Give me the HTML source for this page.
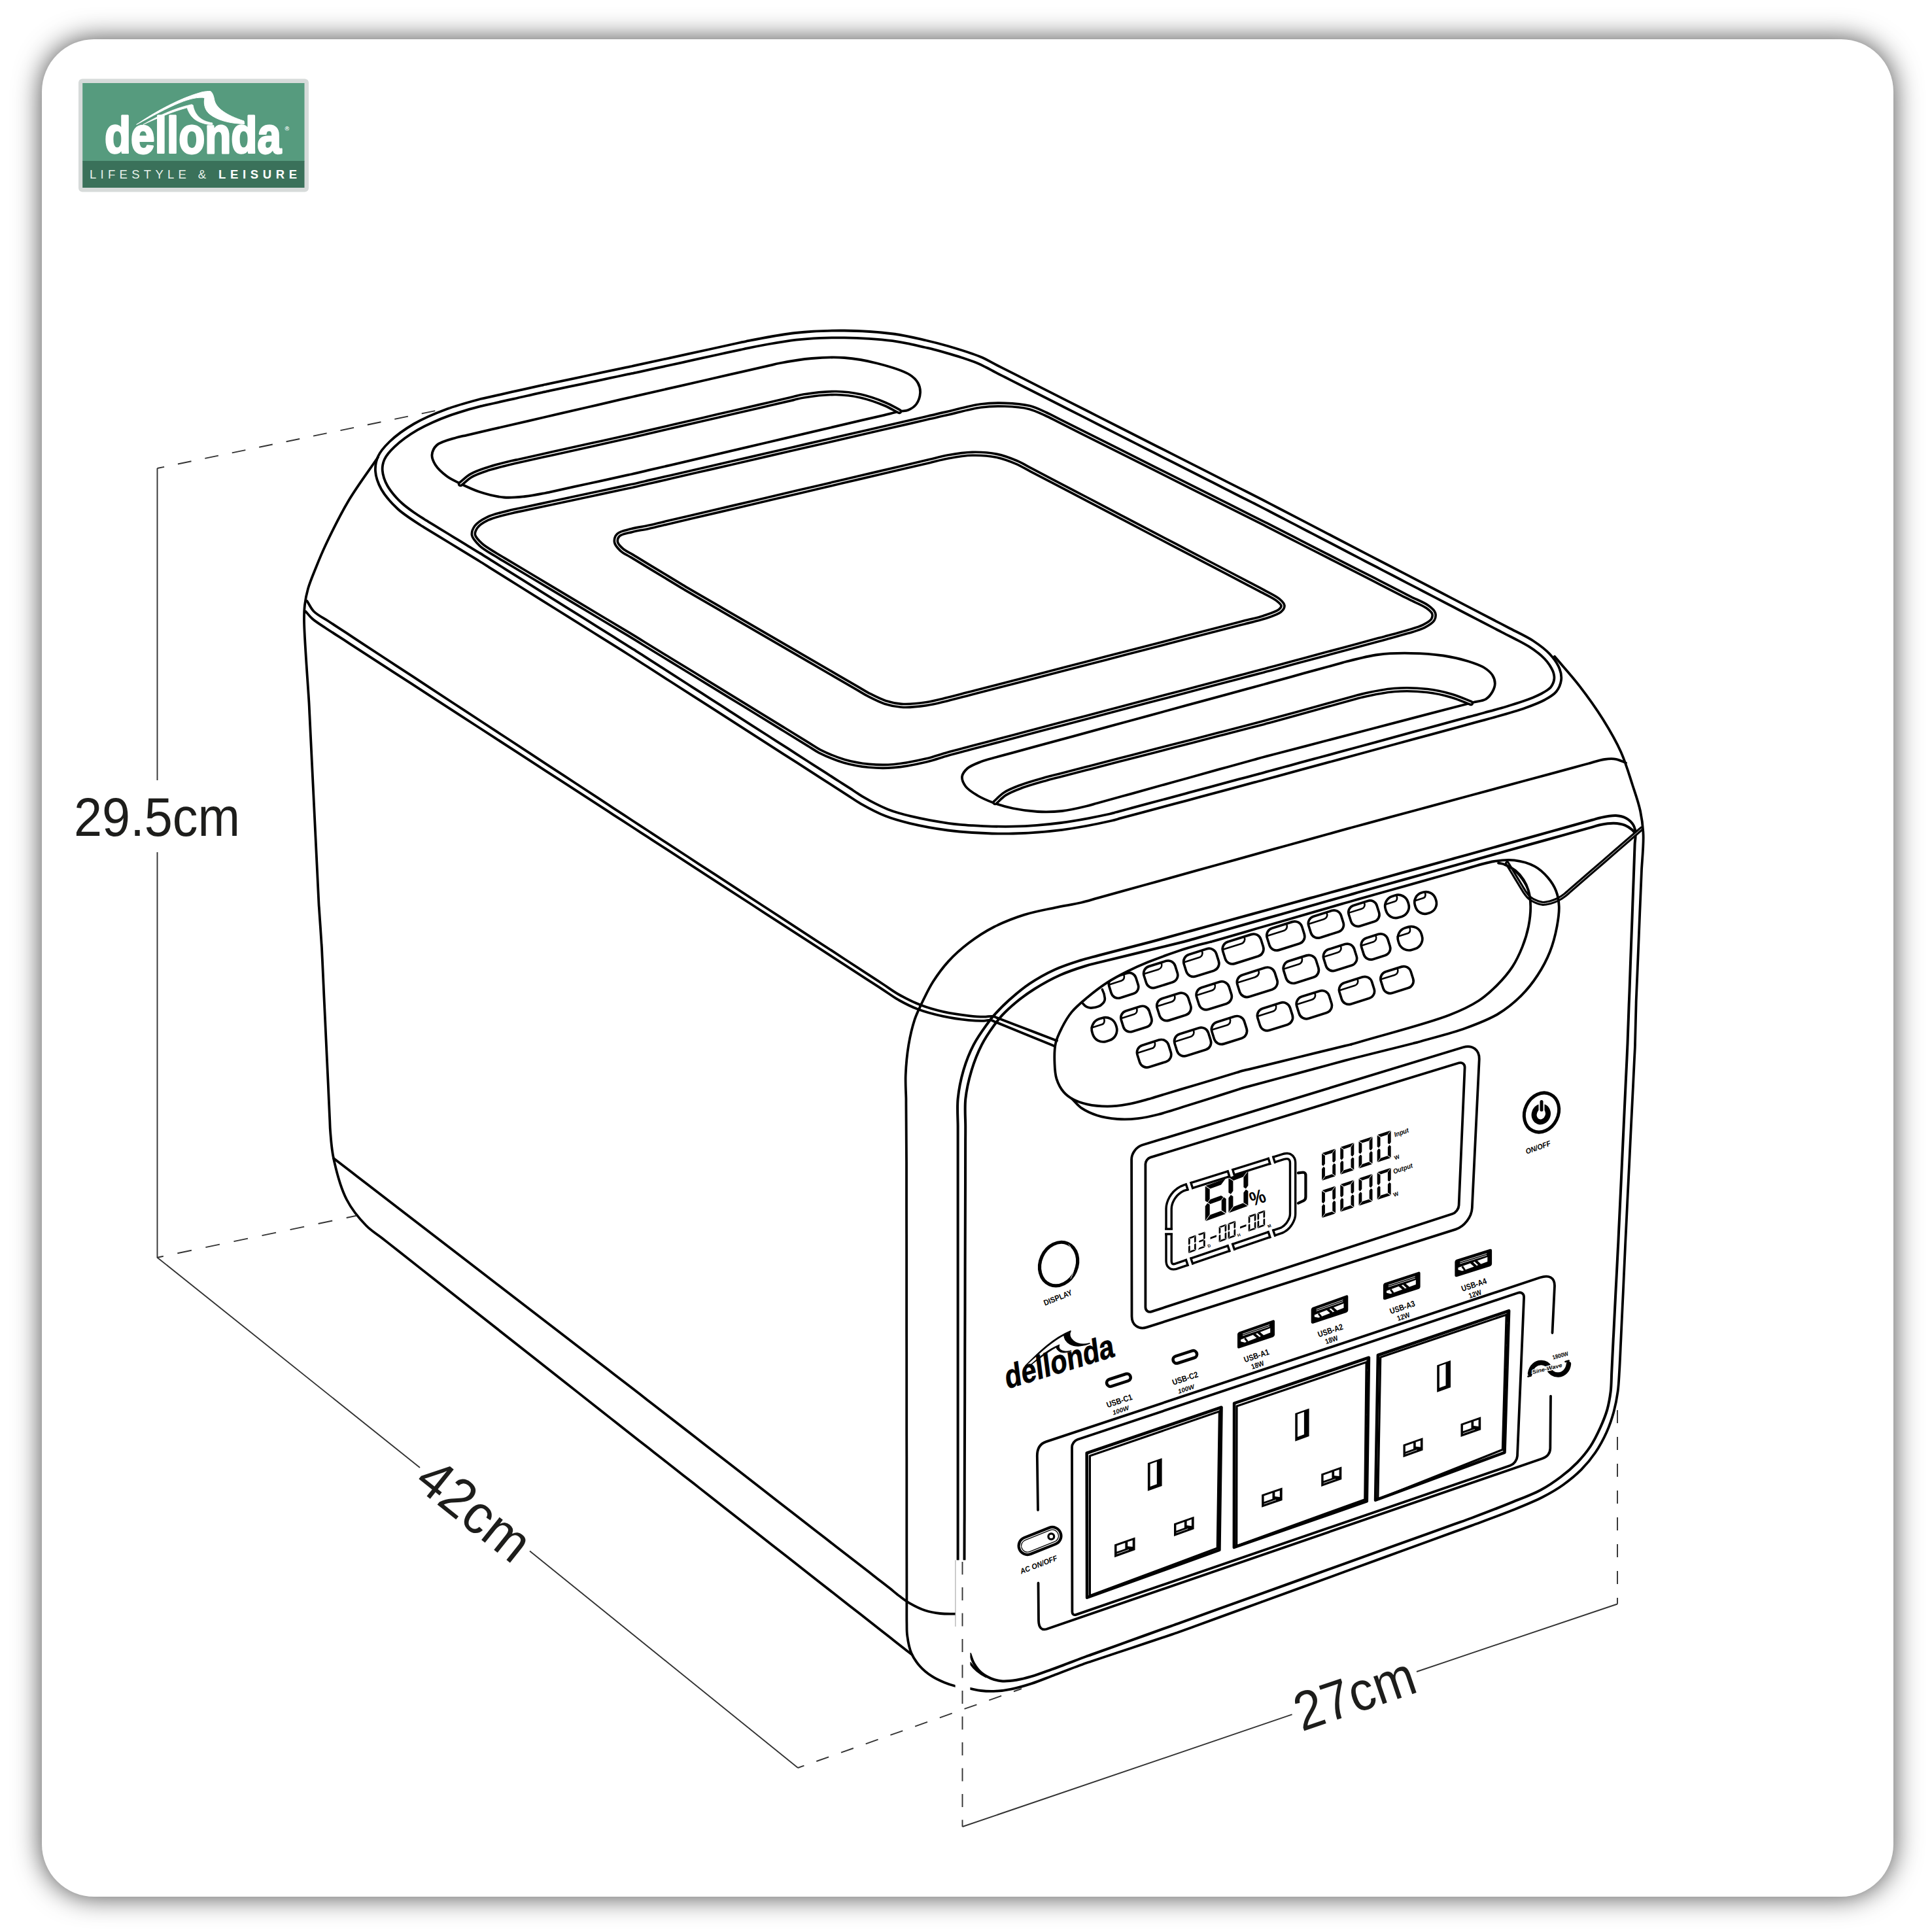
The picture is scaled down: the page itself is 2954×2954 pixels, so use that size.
<!DOCTYPE html>
<html><head><meta charset="utf-8"><title>Dellonda portable power station dimensions</title>
<style>
html,body{margin:0;padding:0;background:#fff;}
body{width:2954px;height:2954px;position:relative;overflow:hidden;font-family:"Liberation Sans",sans-serif;}
#card{position:absolute;left:64px;top:60px;width:2831px;height:2840px;border-radius:80px;background:#fff;box-shadow:0 0 42px rgba(0,0,0,.72);}
svg{position:absolute;left:0;top:0;}
.m{fill:none;stroke:#000;stroke-linecap:round;stroke-linejoin:round;}
.w{fill:none;stroke:#fff;stroke-linecap:round;stroke-linejoin:round;}
.d{fill:none;stroke:#333;stroke-width:1.9;}
.dd{fill:none;stroke:#333;stroke-width:1.9;stroke-dasharray:20 20;}
text{font-family:"Liberation Sans",sans-serif;}
.b{font-weight:bold;}
.bi{font-weight:bold;font-style:italic;}
</style></head><body>
<div id="card"></div>
<svg xmlns="http://www.w3.org/2000/svg" width="2954" height="2954" viewBox="0 0 2954 2954">
<path d="M574 720.5C573.5 712.7 574.8 705.1 578 698C581.5 690 587.9 682.9 595.5 675.5C605.2 666.1 619.1 656.1 633 648C648.1 639.2 666.1 631.8 683 625.5C699.5 619.4 724.4 612.8 733 610.5C736 609.7 736.1 609.8 739 609.1C746.9 607.4 768.3 602.5 783 599.2C797.7 596 819.1 591.1 827 589.4C829.9 588.7 830.9 588.5 833 588C835.5 587.5 837.1 587.1 841 586.3C851.5 584.1 880 578.1 899.5 574C919 569.9 947.5 563.9 958 561.7C961.9 560.9 963.2 560.6 966 560C969.3 559.3 971.4 558.8 976.5 557.7C990.3 554.7 1027.8 546.5 1053.5 540.9C1079.2 535.3 1116.7 527.1 1130.5 524C1135.6 522.9 1135.9 522.7 1141 521.8C1154.6 519.1 1190.9 511.7 1216 509C1240.9 506.3 1266 505.3 1291 505.5C1316 505.7 1343.6 507.5 1366 510.5C1384.4 512.9 1401.1 517.1 1416 520.5C1428.2 523.3 1436.9 525.5 1449 529C1464 533.4 1485.2 539.8 1499 545.5C1509.3 549.8 1516.1 554.2 1525 558.7C1534.2 563.3 1542.2 567.4 1553.1 572.9C1568.2 580.6 1589.2 591.2 1607.2 600.4C1625.3 609.5 1643.3 618.7 1661.4 627.8C1679.4 637 1697.5 646.1 1715.5 655.2C1733.5 664.4 1751.6 673.5 1769.6 682.7C1787.7 691.8 1805.7 701 1823.8 710.1C1841.8 719.3 1862.8 729.9 1877.9 737.6C1888.8 743.1 1896.8 747.2 1906 751.8C1914.9 756.3 1923.7 760.7 1932 765C1939.8 769 1946.4 772.5 1954.5 776.7C1964 781.7 1973.8 786.7 1985.6 792.9C2001 800.9 2021.3 811.4 2039.1 820.7C2057 830 2074.9 839.3 2092.7 848.6C2110.6 857.9 2128.4 867.1 2146.3 876.4C2164.1 885.7 2182 895 2199.9 904.3C2217.7 913.6 2238 924.1 2253.4 932.1C2265.2 938.3 2275 943.3 2284.5 948.3C2292.6 952.5 2298.6 955.6 2307 960C2317.9 965.8 2333.6 972.8 2344.5 980C2354 986.3 2362.7 992.6 2369.5 1000C2375.8 1006.8 2381.7 1015.2 2384.5 1022.5C2386.8 1028.4 2387.8 1034.3 2387 1040C2386.2 1045.9 2383.4 1052.6 2379.5 1057.5C2375.3 1062.7 2368.9 1066.2 2362 1070C2353.6 1074.7 2343.4 1078.4 2332 1082.5C2317.6 1087.7 2295.1 1093.8 2282 1097.5C2273.5 1099.9 2269 1101 2261 1103.2C2250.3 1106.1 2237.5 1109.6 2223.7 1113.3C2206.4 1118 2184.8 1123.9 2165.3 1129.2C2145.9 1134.4 2126.4 1139.7 2107 1145C2087.6 1150.3 2068.1 1155.6 2048.7 1160.8C2029.2 1166.1 2007.6 1172 1990.3 1176.7C1976.5 1180.4 1963.7 1183.9 1953 1186.8C1945 1189 1938.3 1190.8 1932 1192.5C1926.9 1193.9 1924 1194.6 1918 1196.2C1907.4 1199.1 1889.5 1203.9 1873.8 1208.1C1855.7 1213 1834.9 1218.5 1815.5 1223.8C1796.1 1229 1775.3 1234.5 1757.2 1239.4C1741.5 1243.6 1723.6 1248.4 1713 1251.2C1707 1252.9 1705.6 1253.5 1699 1255C1684 1258.4 1649.1 1265.5 1624 1268.8C1599.1 1272 1572.9 1273.9 1549 1274.5C1527.2 1275.1 1504.7 1274.1 1486.5 1273C1472.4 1272.2 1462.8 1271.4 1449 1269.5C1431.7 1267.1 1408.1 1262.9 1391 1258.8C1377 1255.4 1365.8 1252.4 1353.5 1247.5C1340.8 1242.5 1326.6 1234.8 1316 1228.8C1307.8 1224.1 1303 1220.4 1295 1215.3C1284.3 1208.4 1271.5 1200.2 1257.7 1191.3C1240.4 1180.2 1218.8 1166.3 1199.3 1153.8C1179.9 1141.3 1160.4 1128.9 1141 1116.4C1121.6 1103.9 1102.1 1091.4 1082.7 1078.9C1063.2 1066.4 1041.6 1052.6 1024.3 1041.5C1010.5 1032.6 997.7 1024.3 987 1017.5C979 1012.3 972.3 1008 966 1004C960.9 1000.8 958 999 952 995.2C941.4 988.6 923.5 977.4 907.8 967.5C889.7 956.2 868.9 943.2 849.5 931C830.1 918.8 809.3 905.8 791.2 894.5C775.5 884.6 757.6 873.4 747 866.8C741 863 736.6 860.2 733 858C730.8 856.6 730.2 856.3 727.6 854.7C720.5 850.3 701.2 838.6 688 830.5C674.8 822.4 655.5 810.7 648.4 806.3C645.8 804.7 645.5 804.7 643 803C636.4 798.6 618.2 787.4 608 778C598.3 769 588.7 758.3 583 748C578.1 739.1 574.6 729.3 574 720.5Z" class="m" stroke-width="3.8"/>
<path d="M584.8 719.7C584.5 716.6 584.7 713.8 585.2 710.9C585.7 708 586.5 705.3 587.8 702.5C589.3 699.4 591.3 696.3 593.7 693.3C596.3 689.9 599.3 686.8 603 683.3C607.5 679 613.3 674.2 619 670C625.1 665.5 631.5 661.3 638.4 657.3C645.7 653.2 653.7 649.3 661.7 645.7C669.8 642 678.1 638.7 686.7 635.6C695.6 632.5 705.4 629.5 713.9 626.9C721.6 624.6 732.1 621.9 735.7 620.9C737 620.6 737.3 620.6 738.2 620.4C739.2 620.1 739.9 620 741.4 619.7C745.1 618.9 754 616.9 760.8 615.3C768.5 613.6 777.2 611.6 785.4 609.8C793.5 607.9 802.2 606 809.9 604.3C816.8 602.7 825.6 600.7 829.4 599.9C830.9 599.5 831.6 599.4 832.7 599.1C833.6 598.9 834.4 598.8 835.3 598.6C836.3 598.3 837.5 598.1 838.7 597.8C840.1 597.5 841.1 597.3 843.2 596.9C848.3 595.8 860 593.4 869.1 591.4C879.3 589.3 890.8 586.9 901.7 584.6C912.6 582.3 924.1 579.9 934.4 577.7C943.5 575.8 955.2 573.3 960.2 572.2C962.3 571.8 963.2 571.6 964.6 571.3C965.9 571.1 967 570.8 968.3 570.6C969.7 570.2 971.2 569.9 972.9 569.6C974.7 569.2 976 568.9 978.8 568.3C985.5 566.8 1000.9 563.4 1012.9 560.8C1026.4 557.9 1041.5 554.6 1055.8 551.4C1070.1 548.3 1085.3 545 1098.7 542C1110.8 539.4 1126.4 536 1132.8 534.6C1135.4 534 1136.4 533.8 1138.2 533.4C1139.8 533 1140.7 532.8 1143.1 532.3C1149.2 531.1 1164.5 528 1176.1 526C1189 523.8 1203.9 521.3 1217.2 519.7C1229.8 518.3 1241.7 517.5 1254 516.9C1266.3 516.4 1278.5 516.2 1290.9 516.3C1303.4 516.4 1316.3 516.9 1328.8 517.8C1340.9 518.6 1353.7 519.7 1364.6 521.2C1373.8 522.5 1381.8 524 1390.1 525.7C1398.1 527.3 1406.5 529.4 1413.6 531C1419.5 532.4 1424.5 533.5 1429.9 534.9C1435.3 536.3 1440 537.6 1446 539.4C1453.4 541.5 1462.9 544.3 1471.2 547C1479.2 549.7 1488.3 552.7 1494.9 555.5C1499.8 557.5 1503.3 559.4 1507.4 561.5C1511.7 563.7 1515.8 566 1520.1 568.3C1524.5 570.6 1528.9 572.8 1533.5 575.1C1538.3 577.5 1542.6 579.7 1548.2 582.6C1555.7 586.3 1565.4 591.3 1574.2 595.7C1583.4 600.4 1593.1 605.3 1602.4 610C1611.5 614.6 1620.4 619.2 1629.4 623.7C1638.5 628.3 1647.5 632.9 1656.5 637.4C1665.5 642 1674.5 646.6 1683.6 651.2C1692.6 655.7 1701.6 660.3 1710.6 664.9C1719.6 669.5 1728.7 674 1737.7 678.6C1746.7 683.2 1755.7 687.7 1764.7 692.3C1773.8 696.9 1782.8 701.5 1791.8 706C1800.8 710.6 1809.8 715.1 1818.9 719.8C1828.2 724.5 1837.8 729.4 1847 734C1855.9 738.5 1865.6 743.4 1873 747.2C1878.6 750 1882.9 752.2 1887.7 754.7C1892.3 757 1896.7 759.2 1901.1 761.5C1905.6 763.7 1910 765.9 1914.3 768.1C1918.6 770.3 1923 772.5 1927.1 774.6C1930.9 776.6 1934.4 778.4 1938.1 780.3C1941.9 782.3 1945.5 784.2 1949.5 786.3C1954.1 788.7 1959.2 791.3 1964.2 793.9C1969.5 796.7 1974.5 799.3 1980.6 802.4C1988.2 806.4 1997.7 811.3 2006.5 815.9C2015.5 820.6 2025 825.5 2034.2 830.3C2043.2 835 2052 839.6 2060.9 844.2C2069.9 848.9 2078.8 853.5 2087.7 858.2C2096.7 862.8 2105.6 867.4 2114.5 872.1C2123.4 876.7 2132.4 881.4 2141.3 886C2150.2 890.7 2159.2 895.3 2168.1 899.9C2177 904.6 2185.9 909.2 2194.9 913.9C2204 918.6 2213.5 923.5 2222.6 928.3C2231.3 932.8 2240.8 937.8 2248.4 941.7C2254.5 944.9 2259.5 947.5 2264.8 950.2C2269.9 952.9 2275 955.5 2279.5 957.9C2283.5 959.9 2286.9 961.7 2290.7 963.7C2294.4 965.6 2297.7 967.4 2302 969.6C2307.5 972.4 2314.7 975.8 2320.8 979.1C2326.9 982.3 2333.3 985.7 2338.7 989.1C2343.3 992 2347.4 994.9 2351.3 998.1C2355 1001 2358.5 1004.1 2361.6 1007.3C2364.5 1010.4 2367.2 1013.8 2369.4 1017.1C2371.4 1020.2 2373.3 1023.6 2374.5 1026.5C2375.4 1028.8 2375.9 1030.8 2376.2 1032.9C2376.5 1034.8 2376.5 1036.7 2376.3 1038.6C2376 1040.6 2375.4 1042.9 2374.5 1044.9C2373.6 1046.9 2372.6 1049 2371.1 1050.7C2369.7 1052.4 2367.8 1053.8 2365.7 1055.3C2363.2 1057.1 2360.1 1058.8 2356.9 1060.5C2353 1062.5 2348.6 1064.6 2344.1 1066.5C2339.1 1068.5 2334.3 1070.3 2328.4 1072.3C2321.1 1074.8 2311.8 1077.7 2303.5 1080.2C2295.3 1082.6 2285.5 1085.3 2279.1 1087.1C2274.8 1088.3 2272 1089.1 2268.5 1090C2265.1 1090.9 2262.1 1091.7 2258.2 1092.8C2253.1 1094.1 2246.7 1095.9 2240.7 1097.5C2234.3 1099.3 2228 1101 2220.8 1102.9C2212.2 1105.2 2202.1 1108 2192.5 1110.6C2182.6 1113.3 2172.4 1116.1 2162.5 1118.7C2152.7 1121.4 2143.1 1124 2133.3 1126.7C2123.6 1129.3 2113.9 1131.9 2104.2 1134.6C2094.4 1137.2 2084.7 1139.9 2075 1142.5C2065.3 1145.1 2055.6 1147.8 2045.8 1150.4C2035.9 1153.1 2025.7 1155.9 2015.9 1158.5C2006.3 1161.1 1996.1 1163.9 1987.5 1166.2C1980.3 1168.2 1974.1 1169.9 1967.7 1171.6C1961.6 1173.3 1955.3 1175 1950.2 1176.4C1946 1177.5 1942.6 1178.4 1939 1179.4C1935.6 1180.3 1932.1 1181.3 1929.2 1182.1C1926.8 1182.7 1924.8 1183.3 1922.5 1183.9C1920.2 1184.5 1918.3 1185 1915.2 1185.8C1910.2 1187.2 1902 1189.4 1895 1191.2C1887.3 1193.3 1879.3 1195.4 1871 1197.7C1861.8 1200.1 1851.9 1202.8 1842.3 1205.4C1832.5 1208 1822.6 1210.7 1812.7 1213.3C1802.8 1216 1792.9 1218.6 1783.1 1221.3C1773.5 1223.8 1763.6 1226.5 1754.5 1228.9C1746.1 1231.2 1738.1 1233.3 1730.4 1235.4C1723.4 1237.3 1715.1 1239.5 1710.2 1240.8C1707.3 1241.6 1705.5 1242.2 1703.2 1242.8C1701 1243.4 1699.7 1243.8 1696.7 1244.5C1689.8 1246 1675 1249.1 1663.3 1251.3C1650.4 1253.7 1635.9 1256.3 1622.6 1258C1609.9 1259.7 1597.7 1260.9 1585.3 1261.8C1573.1 1262.8 1560.5 1263.4 1548.7 1263.7C1537.7 1264 1527.2 1263.8 1516.7 1263.6C1506.7 1263.3 1495.8 1262.7 1487.1 1262.2C1480.2 1261.8 1474.7 1261.5 1468.6 1260.9C1462.5 1260.3 1457.2 1259.7 1450.5 1258.8C1442 1257.6 1431.4 1255.9 1421.9 1254.2C1412.4 1252.4 1402 1250.2 1393.5 1248.2C1386.6 1246.6 1380.8 1245.2 1374.7 1243.3C1368.8 1241.6 1363.3 1239.8 1357.5 1237.5C1351.4 1235 1344.9 1231.9 1338.9 1228.9C1332.9 1225.9 1326.3 1222.3 1321.4 1219.4C1317.5 1217.2 1314.8 1215.3 1311.4 1213.2C1307.9 1211 1304.8 1208.8 1300.9 1206.2C1295.8 1202.9 1289.4 1198.8 1283.4 1195C1276.9 1190.8 1270.7 1186.8 1263.5 1182.2C1254.9 1176.7 1244.7 1170.1 1235.1 1164C1225.3 1157.7 1215.1 1151.1 1205.2 1144.7C1195.4 1138.5 1185.7 1132.3 1176 1126C1166.3 1119.8 1156.6 1113.5 1146.8 1107.3C1137.1 1101 1127.4 1094.8 1117.7 1088.6C1107.9 1082.3 1098.3 1076.1 1088.5 1069.8C1078.6 1063.5 1068.4 1056.9 1058.5 1050.6C1048.9 1044.4 1038.8 1037.9 1030.2 1032.4C1023 1027.7 1016.7 1023.7 1010.3 1019.6C1004.3 1015.8 998 1011.7 992.8 1008.4C988.7 1005.7 985.3 1003.5 981.7 1001.2C978.3 999.1 974.8 996.8 971.8 994.9C969.3 993.3 967.3 992.1 965 990.6C962.7 989.1 960.8 988 957.8 986.1C952.7 982.9 944.6 977.8 937.6 973.4C929.9 968.6 921.9 963.6 913.5 958.3C904.4 952.6 894.5 946.4 884.9 940.4C875.1 934.3 865.1 928 855.2 921.8C845.4 915.7 835.4 909.4 825.6 903.3C816 897.3 806.1 891.1 797 885.3C788.6 880.1 780.6 875.1 772.9 870.3C765.9 865.9 757.9 860.9 752.7 857.6C749.5 855.6 747.3 854.2 744.8 852.7C742.7 851.3 740.3 849.8 738.7 848.8C737.6 848.2 737 847.8 736.1 847.2C735.1 846.6 734.6 846.3 733.2 845.5C729.9 843.4 721.9 838.6 715.7 834.8C708.8 830.5 701 825.8 693.6 821.3C686.3 816.8 678.5 812 671.6 807.8C665.4 804 657.4 799.1 654 797.1C652.7 796.3 652.1 795.9 651.2 795.4C650.4 794.9 650 794.7 648.9 794C646 792.1 638.3 787.3 632.9 783.5C627.1 779.4 620.5 774.7 615.3 770C610.4 765.7 606.1 761.2 602.2 756.5C598.6 752.1 595 747.3 592.4 742.7C590.1 738.7 588.4 734.8 587.1 730.8C585.9 727.1 585 723.2 584.8 719.7Z" class="m" stroke-width="3.8"/>
<path d="M660.5 695.5C660.9 690.4 663.5 684.6 668 680.5C674.2 674.9 689.5 671.6 698 669C704.1 667.1 707.2 666.9 714.1 665.3C726.3 662.5 746.9 657.7 765 653.5C785.8 648.7 809.7 643.2 832 638C854.3 632.8 878.2 627.3 899 622.5C917.1 618.3 937.7 613.5 949.9 610.7C956.8 609.1 960.9 608.2 966 607C970.7 605.9 973.4 605.3 979.5 603.9C992.6 600.9 1019.5 594.8 1041 589.8C1064.8 584.4 1092.2 578.1 1116 572.7C1137.5 567.7 1164.4 561.6 1177.5 558.6C1183.6 557.2 1185 556.6 1191 555.5C1202.4 553.3 1224.3 549.4 1241 548C1257.6 546.6 1274.4 545.8 1291 547C1307.7 548.2 1324.5 551.2 1341 555.5C1357.9 559.8 1380.3 566.3 1391 573C1397.2 576.9 1400.8 580.7 1403.5 585.5C1406 590 1407.3 595.3 1407 600.5C1406.7 606.1 1404.3 613.5 1401 618C1398 622.1 1392.9 625.2 1388.5 627C1384.5 628.6 1380.8 628 1376 629C1369.2 630.3 1360.3 632.7 1351.4 634.8C1341 637.2 1330.3 639.7 1317.4 642.7C1300.5 646.7 1278.4 651.9 1258.9 656.4C1239.3 661 1219.8 665.6 1200.3 670.1C1180.8 674.7 1161.2 679.3 1141.7 683.9C1122.2 688.4 1102.7 693 1083.1 697.6C1063.6 702.1 1041.5 707.3 1024.6 711.3C1011.7 714.3 1001 716.8 990.6 719.2C981.7 721.3 972 723.7 966 725C962.6 725.8 961.9 725.9 958 726.7C947.5 729 919 735.2 899.5 739.5C880 743.8 851.5 750 841 752.3C837.1 753.1 836.5 753.3 833 754C826.2 755.3 813.2 757.9 803 759C792.4 760.1 781.7 761.5 770.5 760.5C758.4 759.4 744.6 755.8 733 752C722.3 748.5 711.9 743.4 703 739C695.6 735.4 689.1 732.6 683 728C676.6 723.2 669.3 716.6 665.5 710.5C662.5 705.6 660.1 700.4 660.5 695.5Z" class="m" stroke-width="3.8"/>
<path d="M704 740C709.5 735.7 714.1 730.7 720.5 727C727.7 722.8 736.2 720.1 745.5 717C756.6 713.3 774.2 709.1 783 707C787.7 705.8 789 705.7 794 704.6C804.6 702.2 826.5 697.4 844 693.5C863.3 689.2 885.7 684.3 905 680C922.5 676.1 944.4 671.3 955 668.9C960 667.8 962 667.4 966 666.5C970.8 665.4 975 664.4 981.8 662.8C993.7 660.1 1013.9 655.4 1031.6 651.2C1052 646.5 1075.4 641.1 1097.2 636C1119.1 630.9 1142.5 625.5 1162.9 620.8C1180.6 616.6 1200.8 611.9 1212.8 609.2C1219.5 607.6 1221.7 606.6 1228.5 605.5C1240.4 603.6 1263 600.8 1278.5 601C1291.9 601.2 1303.6 602.7 1316 605.5C1328.6 608.3 1342.9 613.5 1353.5 618C1361.8 621.5 1367.8 625.3 1375 629" class="m" stroke-width="8.6"/>
<path d="M704 740C709.5 735.7 714.1 730.7 720.5 727C727.7 722.8 736.2 720.1 745.5 717C756.6 713.3 774.2 709.1 783 707C787.7 705.8 789 705.7 794 704.6C804.6 702.2 826.5 697.4 844 693.5C863.3 689.2 885.7 684.3 905 680C922.5 676.1 944.4 671.3 955 668.9C960 667.8 962 667.4 966 666.5C970.8 665.4 975 664.4 981.8 662.8C993.7 660.1 1013.9 655.4 1031.6 651.2C1052 646.5 1075.4 641.1 1097.2 636C1119.1 630.9 1142.5 625.5 1162.9 620.8C1180.6 616.6 1200.8 611.9 1212.8 609.2C1219.5 607.6 1221.7 606.6 1228.5 605.5C1240.4 603.6 1263 600.8 1278.5 601C1291.9 601.2 1303.6 602.7 1316 605.5C1328.6 608.3 1342.9 613.5 1353.5 618C1361.8 621.5 1367.8 625.3 1375 629" class="w" stroke-width="1.3"/>
<path d="M724 818C723.3 813.8 725.3 809.3 728 805.5C731.5 800.7 738.2 796.6 745.5 793C755.3 788.2 774.2 784.2 783 782C787.7 780.8 789 780.7 794 779.7C804.6 777.4 826.5 772.7 844 769C863.3 764.9 885.7 760.1 905 756C922.5 752.3 944.4 747.6 955 745.3C960 744.3 961.5 744 966 743C973.4 741.4 985.1 738.6 995 736.3C1005.2 734 1014.2 731.9 1026.4 729.1C1043.2 725.2 1066.6 719.8 1086.8 715.2C1106.9 710.6 1127 705.9 1147.1 701.3C1167.2 696.6 1187.4 692 1207.5 687.4C1227.6 682.7 1247.8 678.1 1267.9 673.5C1288 668.8 1308.1 664.2 1328.2 659.6C1348.4 654.9 1371.8 649.5 1388.6 645.7C1400.8 642.9 1409.8 640.8 1420 638.4C1429.9 636.2 1438 634.2 1449 631.8C1463.4 628.5 1483.4 622.6 1499 620.5C1512.3 618.7 1524 618.3 1536.5 618.8C1549 619.2 1562.9 620.2 1574 623C1583.4 625.4 1591.2 629.5 1599 633C1606.1 636.2 1611.4 639.2 1619 643C1629.1 648.1 1641.3 654.2 1654.5 660.8C1670.9 669.1 1691.5 679.4 1710 688.7C1728.5 697.9 1747 707.2 1765.5 716.5C1784 725.8 1802.5 735.1 1821 744.3C1839.5 753.6 1860.1 763.9 1876.5 772.2C1889.7 778.8 1901.9 784.9 1912 790C1919.6 793.8 1926 797 1932 800C1936.9 802.5 1939.7 804 1945.5 806.9C1955.8 812.1 1973 821 1988.2 828.8C2005.7 837.7 2025.8 847.9 2044.5 857.5C2063.2 867.1 2083.3 877.3 2100.8 886.2C2116 894 2133.2 902.9 2143.5 908.1C2149.3 911 2151.8 912.4 2157 915C2164.1 918.6 2175.8 923 2182 927.5C2186.4 930.7 2190.7 933.8 2192 937.5C2193.1 940.6 2192.5 944.5 2190.8 947.5C2188.5 951.4 2182.5 954.6 2177 957.5C2170.1 961.1 2160.9 963.3 2152 966C2141.9 969.1 2127.5 972.8 2119.5 975C2114.8 976.3 2113.4 976.7 2108.2 978C2097.3 981 2074.9 987 2057 991.8C2037.2 997.2 2014.3 1003.3 1994.5 1008.7C1976.6 1013.5 1954.2 1019.5 1943.2 1022.5C1938.1 1023.8 1936.6 1024.3 1932 1025.5C1924.6 1027.5 1912.9 1030.5 1903 1033.1C1892.8 1035.8 1883.8 1038.2 1871.6 1041.4C1854.8 1045.8 1831.4 1052 1811.2 1057.3C1791.1 1062.6 1771 1067.9 1750.9 1073.2C1730.8 1078.5 1710.6 1083.8 1690.5 1089.1C1670.4 1094.4 1650.2 1099.7 1630.1 1105C1610 1110.3 1589.9 1115.6 1569.8 1120.9C1549.6 1126.2 1526.2 1132.4 1509.4 1136.8C1497.2 1140 1488.2 1142.4 1478 1145.1C1468.1 1147.7 1459 1150 1449 1152.8C1438.3 1155.7 1428.2 1159.6 1416 1162.5C1401.1 1166 1381.5 1170 1366 1171.2C1352.7 1172.3 1340.9 1172 1328.5 1170.8C1315.9 1169.5 1303.3 1167.3 1291 1163.8C1278.3 1160.1 1263.4 1153.7 1253.5 1148.8C1246.5 1145.2 1243.2 1142.4 1236.2 1138.2C1225.6 1131.7 1210.6 1122.5 1196 1113.5C1178.5 1102.8 1157.7 1090 1138.5 1078.2C1119.3 1066.5 1100.2 1054.8 1081 1043C1061.8 1031.2 1041 1018.5 1023.5 1007.8C1008.9 998.8 993.9 989.6 983.2 983.1C976.3 978.8 971.3 975.7 966 972.5C961.5 969.8 958.8 968.2 953.5 965C944 959.4 928.1 949.8 914 941.4C897.9 931.7 879.3 920.6 862 910.2C844.7 899.9 826.1 888.8 810 879.1C795.9 870.7 780 861.1 770.5 855.5C765.2 852.3 762.7 851 758 848C751.6 843.9 741.4 838.5 735.5 833C730.6 828.4 724.9 823 724 818Z" class="m" stroke-width="8.6"/>
<path d="M724 818C723.3 813.8 725.3 809.3 728 805.5C731.5 800.7 738.2 796.6 745.5 793C755.3 788.2 774.2 784.2 783 782C787.7 780.8 789 780.7 794 779.7C804.6 777.4 826.5 772.7 844 769C863.3 764.9 885.7 760.1 905 756C922.5 752.3 944.4 747.6 955 745.3C960 744.3 961.5 744 966 743C973.4 741.4 985.1 738.6 995 736.3C1005.2 734 1014.2 731.9 1026.4 729.1C1043.2 725.2 1066.6 719.8 1086.8 715.2C1106.9 710.6 1127 705.9 1147.1 701.3C1167.2 696.6 1187.4 692 1207.5 687.4C1227.6 682.7 1247.8 678.1 1267.9 673.5C1288 668.8 1308.1 664.2 1328.2 659.6C1348.4 654.9 1371.8 649.5 1388.6 645.7C1400.8 642.9 1409.8 640.8 1420 638.4C1429.9 636.2 1438 634.2 1449 631.8C1463.4 628.5 1483.4 622.6 1499 620.5C1512.3 618.7 1524 618.3 1536.5 618.8C1549 619.2 1562.9 620.2 1574 623C1583.4 625.4 1591.2 629.5 1599 633C1606.1 636.2 1611.4 639.2 1619 643C1629.1 648.1 1641.3 654.2 1654.5 660.8C1670.9 669.1 1691.5 679.4 1710 688.7C1728.5 697.9 1747 707.2 1765.5 716.5C1784 725.8 1802.5 735.1 1821 744.3C1839.5 753.6 1860.1 763.9 1876.5 772.2C1889.7 778.8 1901.9 784.9 1912 790C1919.6 793.8 1926 797 1932 800C1936.9 802.5 1939.7 804 1945.5 806.9C1955.8 812.1 1973 821 1988.2 828.8C2005.7 837.7 2025.8 847.9 2044.5 857.5C2063.2 867.1 2083.3 877.3 2100.8 886.2C2116 894 2133.2 902.9 2143.5 908.1C2149.3 911 2151.8 912.4 2157 915C2164.1 918.6 2175.8 923 2182 927.5C2186.4 930.7 2190.7 933.8 2192 937.5C2193.1 940.6 2192.5 944.5 2190.8 947.5C2188.5 951.4 2182.5 954.6 2177 957.5C2170.1 961.1 2160.9 963.3 2152 966C2141.9 969.1 2127.5 972.8 2119.5 975C2114.8 976.3 2113.4 976.7 2108.2 978C2097.3 981 2074.9 987 2057 991.8C2037.2 997.2 2014.3 1003.3 1994.5 1008.7C1976.6 1013.5 1954.2 1019.5 1943.2 1022.5C1938.1 1023.8 1936.6 1024.3 1932 1025.5C1924.6 1027.5 1912.9 1030.5 1903 1033.1C1892.8 1035.8 1883.8 1038.2 1871.6 1041.4C1854.8 1045.8 1831.4 1052 1811.2 1057.3C1791.1 1062.6 1771 1067.9 1750.9 1073.2C1730.8 1078.5 1710.6 1083.8 1690.5 1089.1C1670.4 1094.4 1650.2 1099.7 1630.1 1105C1610 1110.3 1589.9 1115.6 1569.8 1120.9C1549.6 1126.2 1526.2 1132.4 1509.4 1136.8C1497.2 1140 1488.2 1142.4 1478 1145.1C1468.1 1147.7 1459 1150 1449 1152.8C1438.3 1155.7 1428.2 1159.6 1416 1162.5C1401.1 1166 1381.5 1170 1366 1171.2C1352.7 1172.3 1340.9 1172 1328.5 1170.8C1315.9 1169.5 1303.3 1167.3 1291 1163.8C1278.3 1160.1 1263.4 1153.7 1253.5 1148.8C1246.5 1145.2 1243.2 1142.4 1236.2 1138.2C1225.6 1131.7 1210.6 1122.5 1196 1113.5C1178.5 1102.8 1157.7 1090 1138.5 1078.2C1119.3 1066.5 1100.2 1054.8 1081 1043C1061.8 1031.2 1041 1018.5 1023.5 1007.8C1008.9 998.8 993.9 989.6 983.2 983.1C976.3 978.8 971.3 975.7 966 972.5C961.5 969.8 958.8 968.2 953.5 965C944 959.4 928.1 949.8 914 941.4C897.9 931.7 879.3 920.6 862 910.2C844.7 899.9 826.1 888.8 810 879.1C795.9 870.7 780 861.1 770.5 855.5C765.2 852.3 762.7 851 758 848C751.6 843.9 741.4 838.5 735.5 833C730.6 828.4 724.9 823 724 818Z" class="w" stroke-width="1.3"/>
<path d="M942 829C941.4 825.4 942.7 820.8 945.5 818C949.3 814.1 958.8 813 966 811C973.9 808.9 982.5 807.9 991 806C1000 804.1 1008.6 801.9 1018.5 799.5C1030.1 796.8 1042.1 794 1056.4 790.6C1075.3 786.2 1100 780.4 1121.9 775.3C1143.7 770.2 1165.5 765 1187.3 759.9C1209.1 754.8 1230.9 749.7 1252.7 744.6C1274.5 739.5 1296.3 734.3 1318.1 729.2C1340 724.1 1364.7 718.3 1383.6 713.9C1397.9 710.5 1409.9 707.7 1421.5 705C1431.4 702.6 1439.1 700.3 1449 698.5C1460.5 696.4 1474 694 1486.5 693.8C1499 693.5 1512.3 694.4 1524 696.8C1534.7 698.9 1544.8 702.9 1554 706.8C1562.2 710.3 1568.5 714.3 1576.7 718.6C1586.3 723.6 1596.1 728.8 1608 735C1623.6 743.1 1644 753.8 1662 763.2C1680 772.7 1698 782.1 1716 791.5C1734 800.9 1752 810.3 1770 819.8C1788 829.2 1806 838.6 1824 848C1842 857.4 1862.4 868.1 1878 876.2C1889.9 882.5 1899.7 887.6 1909.3 892.6C1917.5 896.9 1924.5 900.4 1932 904.5C1939.6 908.7 1949.4 913.2 1954.5 917.5C1957.8 920.3 1961.3 923.2 1961.5 926C1961.7 928.6 1959.7 931.4 1957 933.8C1952.3 937.8 1940.7 941.1 1932 944C1922.8 947.1 1912.9 948.9 1903 951.5C1892.8 954.2 1883.8 956.5 1871.6 959.6C1854.8 964 1831.4 970 1811.2 975.2C1791.1 980.5 1771 985.7 1750.9 990.9C1730.8 996.1 1710.6 1001.3 1690.5 1006.5C1670.4 1011.7 1650.2 1016.9 1630.1 1022.1C1610 1027.3 1589.9 1032.5 1569.8 1037.8C1549.6 1043 1526.2 1049 1509.4 1053.4C1497.2 1056.5 1488.2 1058.8 1478 1061.5C1468.1 1064.1 1459 1066.6 1449 1069C1438.4 1071.5 1427.4 1074.6 1416 1076.2C1404 1078 1389.7 1079.5 1378.5 1078.8C1369.3 1078.1 1361.7 1076.4 1353.5 1073.8C1345 1071 1335.9 1066.3 1328.5 1062.5C1322.3 1059.3 1318.5 1056.7 1311.7 1052.8C1301.4 1046.7 1286.7 1038.3 1272.5 1030C1255.5 1020.1 1235.2 1008.3 1216.5 997.5C1197.8 986.7 1179.2 975.8 1160.5 965C1141.8 954.2 1121.5 942.4 1104.5 932.5C1090.3 924.2 1075.6 915.8 1065.3 909.8C1058.5 905.8 1052.4 902.3 1048.5 900C1046.4 898.7 1046 898.5 1043.5 897C1037 893 1019.4 882.3 1007.2 875C995.1 867.7 977.5 857 971 853C968.5 851.5 968.1 851.3 966 850C962.3 847.7 954.6 844.3 950.5 840.5C946.8 837.1 942.7 833 942 829Z" class="m" stroke-width="8.6"/>
<path d="M942 829C941.4 825.4 942.7 820.8 945.5 818C949.3 814.1 958.8 813 966 811C973.9 808.9 982.5 807.9 991 806C1000 804.1 1008.6 801.9 1018.5 799.5C1030.1 796.8 1042.1 794 1056.4 790.6C1075.3 786.2 1100 780.4 1121.9 775.3C1143.7 770.2 1165.5 765 1187.3 759.9C1209.1 754.8 1230.9 749.7 1252.7 744.6C1274.5 739.5 1296.3 734.3 1318.1 729.2C1340 724.1 1364.7 718.3 1383.6 713.9C1397.9 710.5 1409.9 707.7 1421.5 705C1431.4 702.6 1439.1 700.3 1449 698.5C1460.5 696.4 1474 694 1486.5 693.8C1499 693.5 1512.3 694.4 1524 696.8C1534.7 698.9 1544.8 702.9 1554 706.8C1562.2 710.3 1568.5 714.3 1576.7 718.6C1586.3 723.6 1596.1 728.8 1608 735C1623.6 743.1 1644 753.8 1662 763.2C1680 772.7 1698 782.1 1716 791.5C1734 800.9 1752 810.3 1770 819.8C1788 829.2 1806 838.6 1824 848C1842 857.4 1862.4 868.1 1878 876.2C1889.9 882.5 1899.7 887.6 1909.3 892.6C1917.5 896.9 1924.5 900.4 1932 904.5C1939.6 908.7 1949.4 913.2 1954.5 917.5C1957.8 920.3 1961.3 923.2 1961.5 926C1961.7 928.6 1959.7 931.4 1957 933.8C1952.3 937.8 1940.7 941.1 1932 944C1922.8 947.1 1912.9 948.9 1903 951.5C1892.8 954.2 1883.8 956.5 1871.6 959.6C1854.8 964 1831.4 970 1811.2 975.2C1791.1 980.5 1771 985.7 1750.9 990.9C1730.8 996.1 1710.6 1001.3 1690.5 1006.5C1670.4 1011.7 1650.2 1016.9 1630.1 1022.1C1610 1027.3 1589.9 1032.5 1569.8 1037.8C1549.6 1043 1526.2 1049 1509.4 1053.4C1497.2 1056.5 1488.2 1058.8 1478 1061.5C1468.1 1064.1 1459 1066.6 1449 1069C1438.4 1071.5 1427.4 1074.6 1416 1076.2C1404 1078 1389.7 1079.5 1378.5 1078.8C1369.3 1078.1 1361.7 1076.4 1353.5 1073.8C1345 1071 1335.9 1066.3 1328.5 1062.5C1322.3 1059.3 1318.5 1056.7 1311.7 1052.8C1301.4 1046.7 1286.7 1038.3 1272.5 1030C1255.5 1020.1 1235.2 1008.3 1216.5 997.5C1197.8 986.7 1179.2 975.8 1160.5 965C1141.8 954.2 1121.5 942.4 1104.5 932.5C1090.3 924.2 1075.6 915.8 1065.3 909.8C1058.5 905.8 1052.4 902.3 1048.5 900C1046.4 898.7 1046 898.5 1043.5 897C1037 893 1019.4 882.3 1007.2 875C995.1 867.7 977.5 857 971 853C968.5 851.5 968.1 851.3 966 850C962.3 847.7 954.6 844.3 950.5 840.5C946.8 837.1 942.7 833 942 829Z" class="w" stroke-width="1.3"/>
<path d="M1471 1187.5C1471.5 1183 1475.1 1178.5 1479 1175C1483.8 1170.7 1491.8 1167.8 1499 1165C1506.7 1161.9 1515.7 1159.9 1524 1157.5C1532.2 1155.2 1539.7 1153.2 1548.5 1150.8C1558.8 1148 1569.5 1145.1 1582.3 1141.6C1599.1 1137.1 1621.1 1131.1 1640.6 1125.8C1660 1120.5 1679.4 1115.2 1698.9 1109.9C1718.3 1104.6 1737.7 1099.4 1757.1 1094.1C1776.6 1088.8 1796 1083.5 1815.4 1078.2C1834.9 1072.9 1856.9 1066.9 1873.7 1062.4C1886.5 1058.9 1897.2 1056 1907.5 1053.2C1916.3 1050.8 1926.2 1048.1 1932 1046.5C1935.2 1045.6 1935.8 1045.4 1939.5 1044.4C1949.4 1041.7 1976.2 1034.3 1994.5 1029.2C2012.8 1024.2 2039.6 1016.8 2049.5 1014.1C2053.2 1013.1 2053.4 1012.9 2057 1012C2066.3 1009.7 2090.2 1003.2 2107 1001C2123.6 998.8 2140.3 998.5 2157 998.8C2173.7 999 2191.6 1000.2 2207 1002.5C2220.5 1004.5 2233.4 1007.5 2244.5 1011C2253.8 1013.9 2262.9 1016.8 2269.5 1021C2274.8 1024.3 2279.3 1028.2 2282 1032.5C2284.4 1036.3 2285.8 1040.8 2285.8 1045C2285.8 1049.2 2284.1 1053.7 2282 1057.5C2279.7 1061.6 2276.4 1066 2272 1068.8C2266.8 1071.9 2258.6 1072.3 2252 1074C2245.5 1075.7 2240.5 1077 2232.8 1079C2221 1082.1 2204.3 1086.5 2188 1090.7C2168.6 1095.8 2145.3 1101.8 2124 1107.4C2102.7 1113 2081.3 1118.5 2060 1124.1C2038.7 1129.7 2015.4 1135.7 1996 1140.8C1979.7 1145 1963 1149.4 1951.2 1152.5C1943.5 1154.5 1938.1 1155.9 1932 1157.5C1926.4 1159 1922.7 1160.1 1915.8 1162C1903.4 1165.4 1882.7 1171.2 1864.4 1176.2C1843.4 1182.1 1819.3 1188.8 1796.8 1195C1774.2 1201.2 1750.1 1207.9 1729.1 1213.8C1710.8 1218.8 1690.1 1224.6 1677.7 1228C1670.8 1229.9 1668.1 1230.9 1661.5 1232.5C1651.6 1234.9 1636.6 1238.6 1624 1240C1611.6 1241.4 1599 1241.7 1586.5 1241C1574 1240.3 1560.7 1238.4 1549 1236C1538.4 1233.8 1528.4 1231 1519 1227.5C1510.2 1224.2 1501.4 1220.5 1494 1216C1487.4 1212 1480.3 1207.7 1476.5 1202.5C1473.2 1198 1470.5 1192.2 1471 1187.5Z" class="m" stroke-width="3.8"/>
<path d="M1521.5 1227C1526.5 1222.6 1530.5 1217.6 1536.5 1213.8C1543.5 1209.2 1552.2 1206 1561.5 1202.5C1572.6 1198.3 1588.4 1194 1599 1191C1606.7 1188.8 1610.9 1187.9 1619 1185.8C1631.3 1182.7 1648.7 1178.2 1665.6 1173.8C1685.8 1168.6 1710 1162.3 1732.2 1156.6C1754.4 1150.9 1776.6 1145.1 1798.8 1139.4C1821 1133.7 1845.2 1127.4 1865.4 1122.2C1882.3 1117.8 1899.7 1113.3 1912 1110.2C1920.1 1108.1 1926.7 1106.4 1932 1105C1935.6 1104 1936.6 1103.7 1941 1102.5C1952.9 1099.3 1985 1090.4 2007 1084.4C2029 1078.3 2061.1 1069.5 2073 1066.2C2077.4 1065 2077.8 1064.7 2082 1063.8C2091.9 1061.5 2115.3 1056.3 2132 1055C2148.6 1053.7 2166.6 1054.3 2182 1056C2195.5 1057.5 2207.9 1060.4 2219.5 1063.8C2230.1 1066.8 2239.2 1071.2 2249 1075" class="m" stroke-width="8.6"/>
<path d="M1521.5 1227C1526.5 1222.6 1530.5 1217.6 1536.5 1213.8C1543.5 1209.2 1552.2 1206 1561.5 1202.5C1572.6 1198.3 1588.4 1194 1599 1191C1606.7 1188.8 1610.9 1187.9 1619 1185.8C1631.3 1182.7 1648.7 1178.2 1665.6 1173.8C1685.8 1168.6 1710 1162.3 1732.2 1156.6C1754.4 1150.9 1776.6 1145.1 1798.8 1139.4C1821 1133.7 1845.2 1127.4 1865.4 1122.2C1882.3 1117.8 1899.7 1113.3 1912 1110.2C1920.1 1108.1 1926.7 1106.4 1932 1105C1935.6 1104 1936.6 1103.7 1941 1102.5C1952.9 1099.3 1985 1090.4 2007 1084.4C2029 1078.3 2061.1 1069.5 2073 1066.2C2077.4 1065 2077.8 1064.7 2082 1063.8C2091.9 1061.5 2115.3 1056.3 2132 1055C2148.6 1053.7 2166.6 1054.3 2182 1056C2195.5 1057.5 2207.9 1060.4 2219.5 1063.8C2230.1 1066.8 2239.2 1071.2 2249 1075" class="w" stroke-width="1.3"/>
<path d="M578 699C563 721.2 546.5 742.8 533 765.5C519.9 787.5 507 814 498 833C491.7 846.4 487.6 856.5 483 868C478.6 878.9 473.9 889.9 471 900C468.5 908.7 467 916.6 466 925C465 933.3 464.9 938.5 465 950C465.3 975.8 471.2 1051.9 472.5 1075C473 1083.9 473 1086 473.4 1093.5C474 1104.9 474.7 1120.9 475.5 1136.6C476.4 1155.3 477.5 1177.7 478.5 1198.2C479.5 1218.7 480.5 1239.3 481.5 1259.8C482.5 1280.3 483.6 1302.7 484.5 1321.4C485.3 1337.1 486 1353.1 486.6 1364.5C487 1372 487.3 1379.1 487.5 1383C487.6 1384.8 487.6 1385 487.8 1387C488.1 1392.2 489.1 1406.3 489.8 1416C490.4 1425.7 491.4 1439.8 491.7 1445C491.9 1447 491.9 1447.2 492 1449C492.2 1452.7 492.4 1458.6 492.8 1465.8C493.4 1478.6 494.4 1500.1 495.2 1519C496.3 1540.7 497.4 1565.7 498.5 1589C499.6 1612.3 500.7 1637.3 501.8 1659C502.6 1677.9 503.6 1699.4 504.2 1712.2C504.6 1719.4 504.4 1722.2 505 1729C505.9 1739.9 506.7 1755.8 510 1771C514.1 1790.1 520.7 1816 530 1834C538 1849.6 549.8 1863.6 560 1874C568 1882.2 576.1 1886.7 584.4 1893.2C593 1900 600.5 1905.9 610.8 1914C624.9 1925.2 644.6 1940.7 661.5 1954C678.4 1967.3 695.3 1980.7 712.2 1994C729.2 2007.3 746.1 2020.7 763 2034C779.9 2047.3 796.8 2060.7 813.8 2074C830.7 2087.3 847.6 2100.7 864.5 2114C881.4 2127.3 901.1 2142.8 915.2 2154C925.5 2162.1 933 2168 941.6 2174.8C949.9 2181.3 957.8 2187.5 966 2194C974.4 2200.6 983.5 2207.7 991.7 2214.1C999.3 2220.1 1004.9 2224.5 1013.6 2231.3C1026.4 2241.4 1045.3 2256.2 1061.2 2268.6C1077 2281.1 1092.9 2293.5 1108.7 2305.9C1124.6 2318.4 1140.5 2330.8 1156.3 2343.2C1172.2 2355.7 1188 2368.1 1203.9 2380.6C1219.7 2393 1235.6 2405.4 1251.5 2417.9C1267.3 2430.3 1283.2 2442.7 1299 2455.2C1314.9 2467.6 1333.8 2482.4 1346.6 2492.5C1355.3 2499.3 1360.9 2503.7 1368.5 2509.7C1376.7 2516.1 1385.6 2523.1 1394.2 2529.8" class="m" stroke-width="3.8"/>
<path d="M510 1771C519.1 1778 528.6 1785.3 537.4 1792.1C545.4 1798.3 551.4 1802.9 560.7 1810C574.3 1820.5 594.4 1836 611.3 1849C628.2 1862 645.1 1875 662 1888C678.9 1901 695.8 1914 712.7 1927C729.6 1940 746.4 1953 763.3 1966C780.2 1979 797.1 1992 814 2005C830.9 2018 847.8 2031 864.7 2044C881.6 2057 901.7 2072.5 915.3 2083C924.6 2090.1 930.6 2094.7 938.6 2100.9C947.4 2107.7 957.2 2115.2 966 2122C974.2 2128.3 981.6 2134.1 989.6 2140.4C998 2146.9 1005.3 2152.6 1015.2 2160.3C1029 2170.9 1048.1 2185.8 1064.5 2198.5C1080.9 2211.3 1097.3 2224 1113.8 2236.8C1130.2 2249.5 1146.6 2262.3 1163 2275.1C1179.4 2287.8 1195.8 2300.6 1212.2 2313.3C1228.7 2326.1 1245.1 2338.8 1261.5 2351.6C1277.9 2364.3 1297 2379.2 1310.8 2389.8C1320.7 2397.5 1328 2403.2 1336.4 2409.7C1344.4 2416 1353 2422.5 1360 2428.1C1365.7 2432.6 1370.3 2436.7 1375.5 2440.6C1380.6 2444.4 1385.1 2448 1391 2451.4C1397.8 2455.3 1406.4 2459.7 1414.3 2462.3C1421.9 2464.8 1429.8 2466.1 1437.6 2467C1445.3 2467.9 1452.9 2467.5 1460.6 2467.7" class="m" stroke-width="3.8"/>
<path d="M469.5 919C473 924.3 475.2 930.2 480 935C485.7 940.7 494.6 944.8 502.5 950C511.3 955.8 521.4 962.4 530.3 968.2C538.5 973.6 544.6 977.6 554 983.8C567.9 992.9 588.3 1006.3 605.5 1017.6C622.7 1028.8 639.8 1040.1 657 1051.3C674.2 1062.6 691.3 1073.9 708.5 1085.1C725.7 1096.4 742.8 1107.6 760 1118.9C777.2 1130.1 794.3 1141.4 811.5 1152.7C828.7 1163.9 845.8 1175.2 863 1186.4C880.2 1197.7 900.6 1211.1 914.5 1220.2C923.9 1226.4 930 1230.4 938.2 1235.8C947.1 1241.6 957 1248.1 966 1254C974.4 1259.5 982.2 1264.6 990.5 1270C999.2 1275.7 1006.8 1280.7 1017.1 1287.4C1031.4 1296.7 1051.2 1309.6 1068.2 1320.8C1085.3 1331.9 1102.3 1343 1119.4 1354.1C1136.4 1365.2 1153.5 1376.4 1170.5 1387.5C1187.5 1398.6 1204.6 1409.8 1221.6 1420.9C1238.7 1432 1255.7 1443.1 1272.8 1454.2C1289.8 1465.4 1309.6 1478.3 1323.9 1487.6C1334.2 1494.3 1341.8 1499.3 1350.5 1505C1358.8 1510.4 1366 1516 1375 1521C1385 1526.6 1396.7 1532.5 1408 1536.8C1419.1 1541.1 1430.3 1544.2 1442.1 1546.9C1454.5 1549.7 1469.6 1551.8 1480.9 1553.1C1489.6 1554.1 1497.4 1554.7 1504.2 1554.7C1509.5 1554.7 1514.6 1553.3 1518.2 1553.9C1520.6 1554.3 1521.2 1555 1524.1 1556.1C1531.8 1559.1 1552.8 1567.1 1567.1 1572.6C1581.4 1578 1602.4 1586 1610.1 1589C1613 1590.1 1614 1590.5 1616 1591.2" class="m" stroke-width="3.8"/>
<path d="M467.5 935C470.8 938.7 473.3 942.3 477.5 946C482.8 950.7 490.2 955.1 497.5 960C506 965.7 516.6 972.4 525.6 978.2C533.9 983.6 540 987.6 549.6 993.8C563.6 1002.9 584.3 1016.3 601.6 1027.6C619 1038.8 636.3 1050.1 653.7 1061.3C671 1072.6 688.4 1083.9 705.7 1095.1C723.1 1106.4 740.4 1117.6 757.8 1128.9C775.1 1140.1 792.5 1151.4 809.8 1162.7C827.2 1173.9 844.5 1185.2 861.9 1196.4C879.2 1207.7 899.9 1221.1 913.9 1230.2C923.5 1236.4 929.6 1240.4 937.9 1245.8C946.9 1251.6 956.9 1258.1 966 1264C974.5 1269.5 982.2 1274.5 990.5 1279.9C999.2 1285.6 1006.8 1290.5 1017.1 1297.2C1031.4 1306.5 1051.2 1319.3 1068.2 1330.4C1085.3 1341.4 1102.3 1352.5 1119.4 1363.6C1136.4 1374.6 1153.5 1385.7 1170.5 1396.8C1187.5 1407.8 1204.6 1418.9 1221.6 1429.9C1238.7 1441 1255.7 1452.1 1272.8 1463.1C1289.8 1474.2 1309.6 1487 1323.9 1496.3C1334.2 1503 1341.8 1507.9 1350.5 1513.6C1358.8 1519 1366.4 1524.7 1375 1529.5C1383.9 1534.5 1392.9 1539.1 1403.3 1543C1415 1547.4 1429.1 1551.1 1442.1 1553.9C1454.9 1556.7 1469.6 1558.7 1480.9 1559.8C1489.6 1560.7 1497.9 1561.1 1504.2 1560.9C1508.5 1560.8 1512.1 1559.4 1515.1 1559.8C1517.4 1560.1 1518.1 1561 1521 1562.2C1528.7 1565.4 1549.7 1573.9 1564 1579.8C1578.3 1585.6 1599.3 1594.1 1607 1597.3C1609.9 1598.5 1610.9 1598.9 1612.9 1599.7" class="m" stroke-width="3.8"/>
<path d="M2377 1003.8C2389.7 1018.8 2402.8 1033 2415 1048.8C2427.5 1065 2440.2 1082.7 2451 1100C2461.3 1116.5 2470.9 1133 2478.5 1150C2485.8 1166.4 2490.9 1184.2 2496 1200C2500.6 1214 2505.2 1226.8 2508 1240C2510.6 1252.4 2512.1 1263.2 2512.6 1276.6C2513.2 1292.7 2510.5 1318.6 2510 1330C2509.8 1335.4 2509.7 1336.6 2509.5 1342C2509 1353.6 2508 1377.5 2507.2 1396.7C2506.4 1417.8 2505.3 1442.2 2504.5 1463.3C2503.7 1482.5 2502.7 1506.4 2502.2 1518C2502 1523.4 2501.8 1527 2501.7 1530C2501.6 1531.8 2501.6 1532.2 2501.6 1534.2C2501.4 1539.7 2501.1 1554.7 2500.8 1565C2500.5 1575.3 2500.2 1590.3 2500 1595.8C2500 1597.8 2500 1598.1 2499.9 1600C2499.8 1603.9 2499.4 1610.7 2499 1618C2498.5 1629.1 2497.7 1644.8 2497 1660C2496.1 1678.2 2495 1700 2494 1720C2493 1740 2492.1 1760 2491.1 1780C2490.1 1800 2489 1821.8 2488.1 1840C2487.4 1855.2 2486.6 1870.9 2486.1 1882C2485.7 1889.3 2485.4 1895 2485.2 1900C2485 1903.5 2485 1904.6 2484.8 1909C2484.2 1920.9 2482.8 1953 2481.8 1975C2480.7 1997 2479.3 2029.1 2478.7 2041C2478.5 2045.4 2478.5 2045.8 2478.3 2050C2477.8 2059.5 2476.9 2082.6 2476 2096.6C2475.3 2108 2475 2117.3 2473.6 2127.6C2472.2 2138 2470.2 2148.4 2467.4 2158.7C2464.5 2169.2 2461 2179.6 2456.5 2189.8C2451.8 2200.3 2445.9 2211.2 2439.4 2220.8C2433 2230.3 2425.8 2239 2417.7 2247.2C2409.3 2255.6 2399.6 2263.5 2389.8 2270.5C2380 2277.5 2370.3 2283 2358.7 2289C2344.9 2296.1 2328.8 2302.5 2312 2309.3C2292.9 2317 2266.4 2326.5 2250 2332.6C2239.2 2336.6 2232.7 2338.9 2223 2342.4C2211.6 2346.6 2199.8 2350.9 2185.7 2356C2167.2 2362.7 2142.9 2371.6 2121.4 2379.4C2100 2387.2 2078.6 2395 2057.1 2402.8C2035.7 2410.6 2014.3 2418.3 1992.9 2426.1C1971.4 2433.9 1950 2441.7 1928.6 2449.5C1907.1 2457.3 1882.8 2466.2 1864.3 2472.9C1850.2 2478 1838.4 2482.3 1827 2486.5C1817.3 2490 1806.5 2494 1800 2496.3C1796.4 2497.5 1795.7 2497.7 1791.6 2499.1C1780.5 2502.8 1750.5 2512.8 1730 2519.7C1709.5 2526.5 1679.5 2536.5 1668.4 2540.2C1664.3 2541.6 1664 2541.6 1660 2543C1650.1 2546.5 1623.4 2556.8 1608.4 2562.5C1596.8 2566.9 1587.8 2570.7 1577.4 2574.1C1567.1 2577.4 1556 2580.6 1546.3 2582.6C1538 2584.3 1530.8 2585.3 1523 2585.7C1515.3 2586.1 1506.8 2585.8 1499.8 2585C1493.8 2584.4 1489.3 2583 1483.4 2581.9C1476.4 2580.6 1467.6 2579.7 1460.6 2578C1454.5 2576.5 1449.5 2574.8 1443.9 2572.5C1437.8 2570 1431.2 2567.1 1425.2 2563.2C1418.7 2559 1411.9 2553.7 1406.6 2547.7C1401.3 2541.8 1396.6 2535 1393.4 2527.5C1390 2519.6 1388.3 2509.4 1387.2 2501.1C1386.2 2494 1386.6 2488.9 1386.4 2481C1386.2 2469.6 1386.4 2450.8 1386.4 2439.1C1386.4 2430.7 1386.4 2426.6 1386.4 2417.5C1386.4 2402 1386.3 2375.2 1386.3 2354.1C1386.3 2332.9 1386.3 2311.8 1386.3 2290.6C1386.3 2269.5 1386.3 2248.3 1386.3 2227.2C1386.2 2206 1386.2 2184.9 1386.2 2163.7C1386.2 2142.6 1386.2 2121.4 1386.2 2100.3C1386.2 2079.1 1386.2 2058 1386.1 2036.8C1386.1 2015.7 1386.1 1994.5 1386.1 1973.4C1386.1 1952.2 1386.1 1931.1 1386.1 1909.9C1386.1 1888.8 1386 1862 1386 1846.5C1386 1837.4 1386 1833.3 1386 1824.9C1386 1813.2 1386 1790.7 1386 1783C1386 1780 1386 1779.8 1386 1776.8C1385.9 1768.7 1385.8 1746.6 1385.7 1731.5C1385.6 1716.4 1385.5 1694.3 1385.4 1686.2C1385.4 1683.2 1385.4 1682.9 1385.4 1680C1385.3 1673 1384.2 1656.8 1384.7 1644C1385.3 1629.5 1386.8 1612.1 1389.3 1597.4C1391.6 1583.8 1394.9 1569.8 1398.6 1558.6C1401.6 1549.7 1404.7 1543.7 1408.7 1535.3C1413.7 1524.9 1419.7 1512 1426.6 1501.1C1433.5 1490.2 1441.1 1479.8 1449.9 1470.1C1459.1 1460.1 1469.6 1450.7 1480.9 1442.1C1492.8 1433 1505.9 1424.4 1519.8 1417.3C1534.3 1409.9 1550.6 1403.5 1566.3 1398.6C1581.6 1393.8 1597.9 1391 1612.9 1387.8C1626.8 1384.8 1641.5 1382.8 1653.3 1380C1662.6 1377.8 1669.1 1375.6 1678.1 1373.1C1688.5 1370.2 1699.3 1367.2 1712.3 1363.6C1729.2 1358.9 1751.6 1352.7 1771.2 1347.3C1790.9 1341.8 1810.5 1336.4 1830.2 1330.9C1849.8 1325.5 1869.5 1320 1889.1 1314.6C1908.8 1309.1 1928.4 1303.7 1948.1 1298.2C1967.7 1292.8 1990.1 1286.6 2007 1281.9C2020 1278.3 2030.8 1275.3 2041.2 1272.4C2050.2 1269.9 2058 1267.7 2066 1265.5C2073.5 1263.5 2079.5 1261.9 2087.8 1259.6C2098.8 1256.6 2112.1 1253 2126.4 1249.2C2144.3 1244.3 2166.7 1238.3 2186.8 1232.8C2207 1227.4 2227.1 1221.9 2247.2 1216.5C2267.4 1211.1 2287.5 1205.6 2307.7 1200.2C2327.8 1194.7 2350.2 1188.7 2368.1 1183.8C2382.4 1180 2395.7 1176.4 2406.8 1173.4C2415 1171.1 2421 1169.5 2428.5 1167.5C2436.5 1165.4 2445.9 1162 2453.5 1161C2459.8 1160.1 2465.5 1159.8 2471 1160.8C2476.3 1161.7 2481 1164.6 2486 1166.5" class="m" stroke-width="3.8"/>
<path d="M1464.6 2385C1464.6 2370.9 1464.6 2354.5 1464.6 2342.7C1464.6 2334.2 1464.6 2330.1 1464.6 2320.9C1464.6 2305.2 1464.6 2278.2 1464.6 2256.8C1464.6 2235.5 1464.6 2214.1 1464.6 2192.7C1464.6 2171.4 1464.6 2150 1464.6 2128.6C1464.6 2107.3 1464.6 2085.9 1464.6 2064.5C1464.6 2043.2 1464.6 2021.8 1464.6 2000.5C1464.6 1979.1 1464.6 1957.7 1464.6 1936.4C1464.6 1915 1464.6 1893.6 1464.6 1872.3C1464.6 1850.9 1464.6 1829.5 1464.6 1808.2C1464.6 1786.8 1464.6 1759.8 1464.6 1744.1C1464.6 1734.9 1464.6 1730.8 1464.6 1722.3C1464.6 1710.5 1463.2 1694.2 1464.6 1680C1466 1665.5 1469.1 1650.2 1473.2 1636.2C1477.2 1622.7 1482.5 1609.3 1488.7 1597.4C1494.5 1586.2 1503 1574.5 1508.9 1566.3C1512.9 1560.6 1515.3 1557.5 1519.8 1552.4C1525.9 1545.5 1534.5 1536.8 1543 1529.1C1552.4 1520.7 1562.8 1511.8 1574.1 1504.2C1586 1496.2 1599.7 1488.5 1612.9 1482.5C1625.6 1476.7 1639.7 1472.3 1651.7 1468.5C1661.8 1465.3 1668.2 1463.9 1680 1460.7C1699.9 1455.4 1742.7 1444.6 1760 1440C1768.3 1437.8 1771 1437 1778.4 1435C1789.7 1431.9 1805.7 1427.5 1821.2 1423.2C1839.8 1418.1 1862 1412 1882.4 1406.4C1902.8 1400.8 1923.2 1395.2 1943.6 1389.6C1964 1384 1986.2 1377.9 2004.8 1372.8C2020.3 1368.5 2036.3 1364.1 2047.6 1361C2055 1359 2060.8 1357.4 2066 1356C2069.8 1355 2071 1354.6 2075.8 1353.3C2088.8 1349.7 2123.9 1340 2148 1333.3C2172.1 1326.7 2207.2 1317 2220.2 1313.4C2225 1312.1 2226.5 1311.7 2230 1310.7C2234 1309.6 2237.1 1308.7 2243 1307.1C2255.7 1303.6 2281.7 1296.3 2302.5 1290.5C2325.4 1284.1 2352 1276.8 2374.9 1270.4C2395.7 1264.6 2421.7 1257.3 2434.4 1253.8C2440.3 1252.2 2442.4 1251.2 2447.4 1250.2C2454 1248.8 2463.8 1246.7 2470.7 1247.1C2476.4 1247.4 2481.7 1248.6 2486.2 1251C2490.5 1253.3 2494.6 1257.2 2497.1 1261C2499.3 1264.3 2499.7 1268.3 2501 1272" class="m" stroke-width="4"/>
<path d="M1474.5 2385C1474.5 2370.9 1474.6 2354.5 1474.6 2342.7C1474.6 2334.2 1474.6 2330.1 1474.7 2320.9C1474.7 2305.2 1474.8 2278.2 1474.8 2256.8C1474.9 2235.5 1474.9 2214.1 1475 2192.7C1475 2171.4 1475.1 2150 1475.2 2128.6C1475.2 2107.3 1475.3 2085.9 1475.3 2064.5C1475.4 2043.2 1475.4 2021.8 1475.5 2000.5C1475.5 1979.1 1475.6 1957.7 1475.6 1936.4C1475.7 1915 1475.8 1893.6 1475.8 1872.3C1475.9 1850.9 1475.9 1829.5 1476 1808.2C1476 1786.8 1476.1 1759.8 1476.1 1744.1C1476.2 1734.9 1476.2 1730.8 1476.2 1722.3C1476.2 1710.5 1474.8 1694.1 1476.3 1680C1477.8 1665.4 1481.4 1650.2 1485.6 1636.2C1489.7 1622.7 1495.1 1609.2 1501.1 1597.4C1506.6 1586.6 1514 1576 1519.8 1567.9C1524.2 1561.8 1527.3 1557.7 1532.2 1552.4C1538.2 1545.9 1546 1538.7 1553.9 1532.2C1562.4 1525.2 1571.6 1518.5 1581.9 1512C1593.6 1504.7 1607.5 1496.9 1620.7 1491C1633.4 1485.3 1648.5 1480.4 1659.5 1477C1667.4 1474.6 1670.2 1474.1 1680 1471.6C1704.6 1465.4 1787.5 1445.8 1809.6 1440C1817.3 1438 1818.4 1437.5 1825 1435.7C1836.7 1432.3 1856.3 1426.8 1873.7 1421.9C1893.6 1416.2 1916.4 1409.8 1937.8 1403.8C1959.2 1397.7 1982 1391.3 2001.9 1385.6C2019.3 1380.7 2038.9 1375.2 2050.6 1371.8C2057.2 1370 2061.4 1368.8 2066 1367.5C2069.6 1366.5 2071 1366.1 2075.8 1364.7C2088.8 1361.1 2123.9 1351.3 2148 1344.5C2172.1 1337.8 2207.2 1328 2220.2 1324.4C2225 1323 2226.5 1322.6 2230 1321.6C2234 1320.5 2237.1 1319.6 2243 1318C2255.7 1314.4 2281.7 1307.2 2302.5 1301.4C2325.4 1295 2352 1287.6 2374.9 1281.2C2395.7 1275.4 2421.7 1268.2 2434.4 1264.6C2440.3 1263 2442.5 1261.9 2447.4 1261C2453.4 1259.8 2461.2 1258.5 2467.6 1258.7C2473.6 1258.9 2479.8 1259.9 2484.7 1261.8C2488.9 1263.5 2492.8 1266.3 2495.5 1268.8C2497.6 1270.8 2499.3 1272.3 2500.2 1275C2501.4 1278.8 2499.9 1283.8 2499.6 1290.3C2499.2 1301.9 2498.5 1321.5 2497.9 1338.8C2497.2 1358.5 2496.3 1381.2 2495.6 1402.5C2494.8 1423.8 2493.9 1446.5 2493.2 1466.2C2492.6 1483.5 2491.9 1503.1 2491.5 1514.7C2491.2 1521.2 2491 1526.5 2490.9 1530C2490.8 1531.8 2490.8 1532.2 2490.7 1534.2C2490.5 1539.7 2490 1554.7 2489.6 1565C2489.2 1575.3 2488.7 1590.3 2488.5 1595.8C2488.4 1597.8 2488.4 1598.1 2488.3 1600C2488.1 1603.9 2487.8 1610.7 2487.5 1618C2486.9 1629.1 2486.2 1644.8 2485.5 1660C2484.6 1678.2 2483.6 1700 2482.7 1720C2481.8 1740 2480.8 1760 2479.9 1780C2479 1800 2478 1821.8 2477.1 1840C2476.4 1855.2 2475.7 1870.9 2475.1 1882C2474.8 1889.3 2474.5 1895 2474.3 1900C2474.1 1903.5 2474.1 1904.6 2473.8 1909C2473.2 1920.9 2471.6 1953 2470.4 1975C2469.3 1997 2467.7 2029.1 2467.1 2041C2466.8 2045.4 2466.8 2045.8 2466.6 2050C2466.1 2059.5 2465 2082.6 2464.3 2096.6C2463.7 2108 2463.9 2117.6 2462.7 2127.6C2461.5 2137.2 2459.9 2146.5 2457.3 2155.6C2454.7 2164.6 2451.2 2173.1 2447.2 2182C2442.8 2191.7 2437.7 2202.4 2431.7 2211.5C2425.8 2220.4 2418.9 2228.6 2411.5 2236.3C2403.9 2244.1 2395.6 2251.2 2386.6 2258C2377.1 2265.2 2367.1 2272.1 2355.6 2278.3C2342.6 2285.3 2327.9 2290.4 2312 2296.9C2293.2 2304.6 2266.5 2314.8 2250 2321C2239.2 2325 2232.7 2327.2 2223 2330.7C2211.6 2334.8 2199.8 2339 2185.7 2344.1C2167.2 2350.8 2142.9 2359.5 2121.4 2367.2C2100 2374.9 2078.6 2382.6 2057.1 2390.3C2035.7 2398 2014.3 2405.8 1992.9 2413.5C1971.4 2421.2 1950 2428.9 1928.6 2436.6C1907.1 2444.3 1882.8 2453 1864.3 2459.7C1850.2 2464.8 1838.4 2469 1827 2473.1C1817.3 2476.6 1806.4 2480.5 1800 2482.8C1796.4 2484.1 1795.7 2484.3 1791.6 2485.8C1780.5 2489.8 1750.5 2500.5 1730 2507.9C1709.5 2515.3 1679.5 2526 1668.4 2530C1664.3 2531.5 1664 2531.5 1660 2533C1650.1 2536.6 1623.4 2547 1608.4 2552.4C1596.8 2556.6 1587.1 2560.4 1577.4 2563.2C1569.1 2565.6 1561.9 2567.5 1554.1 2568.7C1546.4 2569.9 1537.7 2570.8 1530.8 2570.2C1525.1 2569.7 1520.3 2568.4 1515.3 2566.3C1510 2564.1 1504.2 2560.9 1499.8 2557C1495.4 2553.1 1491.7 2547.9 1488.9 2543C1486.3 2538.5 1485.2 2533.7 1483.4 2529.1" class="m" stroke-width="4"/>
<path d="M1483.4 2543C1490 2552 1498 2559 1507.5 2563.2" class="m" stroke-width="3.8"/>
<path d="M2509.5 1267.3C2507.2 1269.3 2505.9 1270.4 2502.5 1273.4C2493.3 1281.3 2468.3 1303 2451.2 1317.8C2434.2 1332.5 2409.2 1354.2 2400 1362.1C2396.6 1365.1 2395.7 1366.2 2393 1368.2C2389.9 1370.6 2386 1373.3 2382.2 1375.2C2378.3 1377.2 2373.9 1378.8 2369.8 1379.8C2366.1 1380.7 2362.5 1381.6 2358.9 1381.4C2355.2 1381.2 2351.4 1379.7 2348 1378.3C2344.7 1376.9 2341.5 1375.3 2338.7 1372.9C2335.7 1370.4 2332.5 1365.7 2330.9 1363.5C2330.1 1362.4 2330.1 1362.2 2329.3 1360.9C2327.2 1357.4 2321.6 1348.1 2317.7 1341.8C2313.8 1335.4 2308.2 1326.1 2306.1 1322.6C2305.3 1321.3 2305 1320.9 2304.5 1320" class="m" stroke-width="7"/>
<path d="M2509.5 1267.3C2507.2 1269.3 2505.9 1270.4 2502.5 1273.4C2493.3 1281.3 2468.3 1303 2451.2 1317.8C2434.2 1332.5 2409.2 1354.2 2400 1362.1C2396.6 1365.1 2395.7 1366.2 2393 1368.2C2389.9 1370.6 2386 1373.3 2382.2 1375.2C2378.3 1377.2 2373.9 1378.8 2369.8 1379.8C2366.1 1380.7 2362.5 1381.6 2358.9 1381.4C2355.2 1381.2 2351.4 1379.7 2348 1378.3C2344.7 1376.9 2341.5 1375.3 2338.7 1372.9C2335.7 1370.4 2332.5 1365.7 2330.9 1363.5C2330.1 1362.4 2330.1 1362.2 2329.3 1360.9C2327.2 1357.4 2321.6 1348.1 2317.7 1341.8C2313.8 1335.4 2308.2 1326.1 2306.1 1322.6C2305.3 1321.3 2305 1320.9 2304.5 1320" class="w" stroke-width="0.9"/>
<path d="M1851.6 1440C1855.9 1438.8 1858.6 1438 1864.5 1436.3C1876.9 1432.7 1902.6 1425.3 1923.1 1419.3C1945.7 1412.8 1971.9 1405.2 1994.5 1398.7C2015 1392.7 2040.7 1385.3 2053.1 1381.7C2059 1380 2062 1379.1 2066 1378C2069.5 1377 2071 1376.6 2075.8 1375.2C2088.8 1371.6 2123.9 1361.6 2148 1354.8C2172.1 1348.1 2207.2 1338.1 2220.2 1334.5C2225 1333.1 2225.4 1333 2230 1331.7C2240.8 1328.7 2268.6 1319.5 2284.3 1317C2296 1315.1 2305.1 1314.2 2315.4 1315.4C2325.9 1316.7 2337.7 1319.9 2346.5 1324.7C2354.5 1329 2361.1 1335.4 2366.6 1341.8C2371.8 1347.9 2376.2 1354.7 2379.1 1362C2381.9 1369.2 2383.3 1376.9 2383.7 1385.3C2384.2 1394.9 2382.6 1405.5 2380.6 1416.3C2378.3 1428.6 2374.7 1442.8 2369.8 1455.2C2364.9 1467.6 2358.4 1479.7 2351.1 1490.9C2343.9 1502 2335.9 1512.3 2326.3 1521.9C2316.1 1532.1 2304.4 1541.9 2291 1550C2276.3 1558.9 2259.6 1565.2 2241 1572C2218.8 1580.1 2191 1586.7 2166 1594" class="m" stroke-width="3.8"/>
<path d="M2291 1319.6C2294 1320.3 2296.6 1320.3 2299.9 1321.6C2304.8 1323.4 2312 1327 2317 1330.9C2321.9 1334.8 2326.1 1339.7 2329.4 1344.9C2332.8 1350.1 2335.3 1355.7 2337.1 1362C2339.1 1369 2340.1 1377 2340.2 1385.3C2340.4 1394.9 2339.1 1406.1 2337.1 1416.3C2335 1426.8 2331.8 1437.2 2327.8 1447.4C2323.6 1457.9 2318.7 1468.7 2312.3 1478.4C2305.8 1488.4 2297.5 1497.8 2289 1506.4C2280.4 1515 2271.9 1522.9 2261 1530C2248.2 1538.3 2235.8 1544.3 2216 1552C2181 1565.7 2116 1581.8 2066 1596.8" class="m" stroke-width="3.8"/>
<path d="M2313 1329C2322 1336 2334 1352 2338 1366" class="m" stroke-width="2.4"/>
<path d="M1851.6 1440C1845.4 1441.6 1839.9 1442.8 1832.9 1444.7C1823.8 1447.2 1813.2 1450.2 1801.9 1454C1787.9 1458.7 1769.2 1465.5 1755.3 1471.1C1743.8 1475.8 1734.5 1479.9 1724.2 1485C1713.7 1490.2 1703.3 1495.6 1693.2 1502.1C1682.6 1508.9 1671.5 1517.5 1662.1 1525.4C1653.6 1532.5 1645.4 1539.1 1638.8 1547.1C1632.5 1554.7 1627.5 1563.6 1623.3 1572C1619.4 1579.7 1615.8 1586.8 1614 1595.3C1611.9 1604.7 1612.1 1616.7 1612.5 1626.3C1612.8 1634.6 1613.2 1642.3 1615.5 1649.6C1617.8 1656.8 1621.9 1664.5 1626.4 1669.8C1630.4 1674.5 1634.9 1677.7 1640.4 1680.7C1646.6 1684.1 1654.1 1686.6 1662.1 1688.4C1671.4 1690.5 1682.8 1691.6 1693.2 1691.6C1703.5 1691.6 1713.9 1690.2 1724.2 1688.4C1734.6 1686.6 1748.1 1682.7 1755.3 1680.7C1759.1 1679.7 1759.8 1679.4 1764 1678.1C1775.4 1674.6 1806.4 1665.3 1827.7 1659C1848.9 1652.6 1879.9 1643.3 1891.3 1639.8C1895.5 1638.5 1897 1638 1900 1637.2C1903.2 1636.3 1905.1 1636 1910 1634.8C1923.1 1631.6 1958.7 1622.9 1983 1617C2007.3 1611 2042.9 1602.4 2056 1599.2C2060.9 1598 2062.7 1597.6 2066 1596.8" class="m" stroke-width="3.8"/>
<path d="M1638.8 1679.9C1644 1684.8 1648.2 1690.6 1654.3 1694.7C1661 1699.2 1669.1 1702.8 1677.6 1705.5C1687 1708.5 1698.3 1710.2 1708.7 1711C1719 1711.8 1729.5 1711.4 1739.8 1710.2C1750.2 1709 1760.5 1706.6 1770.8 1704C1781.2 1701.4 1795.6 1696.6 1801.9 1694.7C1804.6 1693.9 1804.9 1693.7 1807.8 1692.8C1815.5 1690.4 1836.6 1683.7 1851 1679.2C1865.3 1674.6 1886.4 1667.9 1894.1 1665.5C1897 1664.6 1897.8 1664.3 1900 1663.6C1902.9 1662.8 1905.1 1662.2 1910 1660.9C1923.1 1657.4 1958.7 1647.8 1983 1641.3C2007.3 1634.8 2042.9 1625.2 2056 1621.7C2060.9 1620.4 2063.1 1619.8 2066 1619C2068.2 1618.4 2069.1 1618.2 2072 1617.5C2079.9 1615.5 2101.3 1610.2 2116 1606.5C2130.7 1602.8 2152.1 1597.5 2160 1595.5C2162.9 1594.8 2164 1594.5 2166 1594" class="m" stroke-width="3.8"/>
<clipPath id="recclip"><path d="M1851.6 1440L1848.5 1440.8L1845.5 1441.5L1842.5 1442.2L1839.5 1443L1836.3 1443.8L1832.9 1444.7L1828.2 1446L1823.4 1447.4L1818.2 1448.9L1813 1450.5L1807.5 1452.2L1801.9 1454L1794.5 1456.5L1786.7 1459.3L1778.5 1462.2L1770.4 1465.2L1762.6 1468.2L1755.3 1471.1L1749.7 1473.4L1744.4 1475.6L1739.3 1477.9L1734.3 1480.2L1729.3 1482.5L1724.2 1485L1719 1487.6L1713.8 1490.3L1708.6 1493.1L1703.4 1495.9L1698.3 1498.9L1693.2 1502.1L1687.9 1505.7L1682.5 1509.4L1677.2 1513.4L1672 1517.4L1666.9 1521.4L1662.1 1525.4L1657.9 1528.9L1653.7 1532.4L1649.7 1535.9L1645.9 1539.5L1642.2 1543.2L1638.8 1547.1L1635.8 1551L1632.9 1555.1L1630.3 1559.3L1627.8 1563.5L1625.5 1567.8L1623.3 1572L1621.4 1575.8L1619.6 1579.6L1617.9 1583.4L1616.4 1587.2L1615.1 1591.2L1614 1595.3L1613.1 1600.2L1612.6 1605.4L1612.3 1610.7L1612.3 1616.1L1612.3 1621.3L1612.5 1626.3L1612.7 1630.4L1612.9 1634.4L1613.2 1638.3L1613.8 1642.2L1614.5 1645.9L1615.5 1649.6L1616.8 1653.2L1618.4 1656.8L1620.1 1660.4L1622.1 1663.8L1624.2 1666.9L1626.4 1669.8L1628.4 1672L1630.6 1674.1L1632.8 1675.9L1635.2 1677.6L1637.7 1679.2L1640.4 1680.7L1643.6 1682.3L1647 1683.8L1650.6 1685.1L1654.3 1686.4L1658.1 1687.4L1662.1 1688.4L1666.9 1689.4L1672 1690.2L1677.3 1690.8L1682.6 1691.2L1687.9 1691.5L1693.2 1691.6L1698.4 1691.5L1703.5 1691.2L1708.7 1690.7L1713.9 1690L1719.1 1689.3L1724.2 1688.4L1729.1 1687.5L1733.8 1686.5L1738.4 1685.3L1743.3 1684L1748.8 1682.5L1755.3 1680.7L1773.2 1675.5L1795.3 1668.7L1820.4 1660.9L1847 1652.7L1874 1644.6L1900 1637.2L1926.9 1630.1L1954.4 1623.3L1982.2 1616.6L2010.2 1610L2038.2 1603.4L2066 1596.8L2400 1700L2400 1250L2284 1317L2066 1378Z"/></clipPath><g clip-path="url(#recclip)">
<g transform="translate(1718 1506.8) rotate(-17.5)"><rect x="-21.5" y="-16.5" width="43" height="33" rx="10.9" class="m" stroke-width="3.7"/><path d="M-20.5 -7.9L-0.9 -7.9C3.4 -7.9 5.6 -11.9 5.2 -15.5" class="m" stroke-width="2.6"/></g>
<g transform="translate(1774.7 1489.7) rotate(-17.5)"><rect x="-25" y="-17" width="50" height="34" rx="11.2" class="m" stroke-width="3.7"/><path d="M-24 -8.2L-1 -8.2C4 -8.2 6.5 -12.2 6 -16" class="m" stroke-width="2.6"/></g>
<g transform="translate(1836.8 1471.8) rotate(-17.5)"><rect x="-26" y="-17.5" width="52" height="35" rx="11.6" class="m" stroke-width="3.7"/><path d="M-25 -8.4L-1 -8.4C4.2 -8.4 6.8 -12.6 6.2 -16.5" class="m" stroke-width="2.6"/></g>
<g transform="translate(1900.6 1451) rotate(-17.5)"><rect x="-30.5" y="-17.5" width="61" height="35" rx="11.6" class="m" stroke-width="3.7"/><path d="M-29.5 -8.4L-1.2 -8.4C4.9 -8.4 7.9 -12.6 7.3 -16.5" class="m" stroke-width="2.6"/></g>
<g transform="translate(1965.8 1431) rotate(-17.5)"><rect x="-28" y="-17.5" width="56" height="35" rx="11.6" class="m" stroke-width="3.7"/><path d="M-27 -8.4L-1.1 -8.4C4.5 -8.4 7.3 -12.6 6.7 -16.5" class="m" stroke-width="2.6"/></g>
<g transform="translate(2027.4 1413) rotate(-17.5)"><rect x="-26" y="-17" width="52" height="34" rx="11.2" class="m" stroke-width="3.7"/><path d="M-25 -8.2L-1 -8.2C4.2 -8.2 6.8 -12.2 6.2 -16" class="m" stroke-width="2.6"/></g>
<g transform="translate(2085.4 1396.7) rotate(-17.5)"><rect x="-22.5" y="-16.5" width="45" height="33" rx="10.9" class="m" stroke-width="3.7"/><path d="M-21.5 -7.9L-0.9 -7.9C3.6 -7.9 5.9 -11.9 5.4 -15.5" class="m" stroke-width="2.6"/></g>
<g transform="translate(2136 1385.9) rotate(-17.5)"><rect x="-18" y="-17" width="36" height="34" rx="15.6" class="m" stroke-width="3.7"/><path d="M-17 -8.2L-0.7 -8.2C2.9 -8.2 4.7 -12.2 4.3 -16" class="m" stroke-width="2.6"/></g>
<g transform="translate(2179.6 1380.4) rotate(-17.5)"><rect x="-16.5" y="-16.5" width="33" height="33" rx="15.2" class="m" stroke-width="3.7"/><path d="M-15.5 -7.9L-0.7 -7.9C2.6 -7.9 4.3 -11.9 4 -15.5" class="m" stroke-width="2.6"/></g>
<g transform="translate(1688.5 1574.3) rotate(-17.5)"><rect x="-19" y="-18" width="38" height="36" rx="16.6" class="m" stroke-width="3.7"/><path d="M-18 -8.6L-0.8 -8.6C3 -8.6 4.9 -13 4.6 -17" class="m" stroke-width="2.6"/></g>
<g transform="translate(1737.4 1558) rotate(-17.5)"><rect x="-22.5" y="-16.5" width="45" height="33" rx="10.9" class="m" stroke-width="3.7"/><path d="M-21.5 -7.9L-0.9 -7.9C3.6 -7.9 5.9 -11.9 5.4 -15.5" class="m" stroke-width="2.6"/></g>
<g transform="translate(1794.9 1539.4) rotate(-17.5)"><rect x="-25" y="-17.5" width="50" height="35" rx="11.6" class="m" stroke-width="3.7"/><path d="M-24 -8.4L-1 -8.4C4 -8.4 6.5 -12.6 6 -16.5" class="m" stroke-width="2.6"/></g>
<g transform="translate(1856.2 1522.3) rotate(-17.5)"><rect x="-26" y="-17.5" width="52" height="35" rx="11.6" class="m" stroke-width="3.7"/><path d="M-25 -8.4L-1 -8.4C4.2 -8.4 6.8 -12.6 6.2 -16.5" class="m" stroke-width="2.6"/></g>
<g transform="translate(1922.3 1501.8) rotate(-17.5)"><rect x="-30" y="-17.5" width="60" height="35" rx="11.6" class="m" stroke-width="3.7"/><path d="M-29 -8.4L-1.2 -8.4C4.8 -8.4 7.8 -12.6 7.2 -16.5" class="m" stroke-width="2.6"/></g>
<g transform="translate(1989.3 1481.9) rotate(-17.5)"><rect x="-26" y="-17.5" width="52" height="35" rx="11.6" class="m" stroke-width="3.7"/><path d="M-25 -8.4L-1 -8.4C4.2 -8.4 6.8 -12.6 6.2 -16.5" class="m" stroke-width="2.6"/></g>
<g transform="translate(2049 1463.8) rotate(-17.5)"><rect x="-24.5" y="-17" width="49" height="34" rx="11.2" class="m" stroke-width="3.7"/><path d="M-23.5 -8.2L-1 -8.2C3.9 -8.2 6.4 -12.2 5.9 -16" class="m" stroke-width="2.6"/></g>
<g transform="translate(2103.5 1447.5) rotate(-17.5)"><rect x="-21" y="-17" width="42" height="34" rx="11.2" class="m" stroke-width="3.7"/><path d="M-20 -8.2L-0.8 -8.2C3.4 -8.2 5.5 -12.2 5 -16" class="m" stroke-width="2.6"/></g>
<g transform="translate(2156 1434.8) rotate(-17.5)"><rect x="-18.5" y="-17.5" width="37" height="35" rx="16.1" class="m" stroke-width="3.7"/><path d="M-17.5 -8.4L-0.7 -8.4C3 -8.4 4.8 -12.6 4.4 -16.5" class="m" stroke-width="2.6"/></g>
<g transform="translate(1764.6 1610.8) rotate(-17.5)"><rect x="-25" y="-17.5" width="50" height="35" rx="11.6" class="m" stroke-width="3.7"/><path d="M-24 -8.4L-1 -8.4C4 -8.4 6.5 -12.6 6 -16.5" class="m" stroke-width="2.6"/></g>
<g transform="translate(1823.6 1593) rotate(-17.5)"><rect x="-27" y="-17.5" width="54" height="35" rx="11.6" class="m" stroke-width="3.7"/><path d="M-26 -8.4L-1.1 -8.4C4.3 -8.4 7 -12.6 6.5 -16.5" class="m" stroke-width="2.6"/></g>
<g transform="translate(1879.5 1575.1) rotate(-17.5)"><rect x="-26" y="-17.5" width="52" height="35" rx="11.6" class="m" stroke-width="3.7"/><path d="M-25 -8.4L-1 -8.4C4.2 -8.4 6.8 -12.6 6.2 -16.5" class="m" stroke-width="2.6"/></g>
<g transform="translate(1949.5 1554.3) rotate(-17.5)"><rect x="-26" y="-17.5" width="52" height="35" rx="11.6" class="m" stroke-width="3.7"/><path d="M-25 -8.4L-1 -8.4C4.2 -8.4 6.8 -12.6 6.2 -16.5" class="m" stroke-width="2.6"/></g>
<g transform="translate(2009.3 1536.2) rotate(-17.5)"><rect x="-26" y="-17.5" width="52" height="35" rx="11.6" class="m" stroke-width="3.7"/><path d="M-25 -8.4L-1 -8.4C4.2 -8.4 6.8 -12.6 6.2 -16.5" class="m" stroke-width="2.6"/></g>
<g transform="translate(2074.5 1514.5) rotate(-17.5)"><rect x="-26" y="-17" width="52" height="34" rx="11.2" class="m" stroke-width="3.7"/><path d="M-25 -8.2L-1 -8.2C4.2 -8.2 6.8 -12.2 6.2 -16" class="m" stroke-width="2.6"/></g>
<g transform="translate(2136 1498.2) rotate(-17.5)"><rect x="-24" y="-17" width="48" height="34" rx="11.2" class="m" stroke-width="3.7"/><path d="M-23 -8.2L-1 -8.2C3.8 -8.2 6.2 -12.2 5.8 -16" class="m" stroke-width="2.6"/></g>
<path d="M1655.9 1534.7C1660 1540 1665 1541.5 1669.9 1540.9C1677 1540 1681 1539 1683.9 1536.3C1688 1533 1689.5 1531 1689.3 1527C1689 1521 1687.5 1517 1685.4 1513" class="m" stroke-width="3.7"/>
</g>
<path d="M1730.1 1772.8C1730.1 1763.4 1737.4 1753.6 1746.4 1750.8L2237.2 1601.3C2251.4 1596.9 2262.4 1605.5 2261.7 1620.4L2250.8 1847C2250.1 1860.8 2238.9 1875.4 2225.8 1879.6L1753.4 2029.4C1740.8 2033.4 1730.5 2025.9 1730.5 2012.7Z" class="m" stroke-width="3.8"/>
<path d="M1751.4 1780C1751.4 1775.6 1754.8 1770.9 1759 1769.7L2230.4 1625.3C2235.7 1623.7 2239.8 1626.9 2239.6 1632.4L2230.6 1842.9C2230.4 1848.4 2225.9 1854.3 2220.7 1856L1760.9 2005.4C1755.7 2007.1 1751.4 2004 1751.4 1998.5Z" class="m" stroke-width="3.8"/>
<path d="M1787.1 1848.3L1787.4 1844.3L1788.3 1840.3L1789.7 1836.3L1791.7 1832.4L1794.1 1828.7L1796.9 1825.3L1800.1 1822.3L1803.5 1819.7L1807 1817.6L1810.7 1816.1L1963.1 1768.3L1965.6 1767.8L1967.8 1767.6L1969.7 1767.9L1971.4 1768.4L1972.8 1769.3L1974 1770.4L1975 1771.8L1975.9 1773.5L1976.4 1775.7L1976.6 1778.2L1976.6 1855.6L1976.4 1858.7L1975.7 1862L1974.5 1865.2L1972.9 1868.4L1971 1871.4L1968.8 1874.3L1966.2 1876.8L1963.5 1878.9L1960.7 1880.6L1957.8 1881.8L1798.4 1936.1L1796.2 1936.6L1794.3 1936.8L1792.7 1936.6L1791.4 1936.2L1790.2 1935.5L1789.3 1934.6L1788.4 1933.5L1787.7 1932L1787.3 1930.2L1787.1 1928L1787.1 1848.3" class="m" stroke-width="11.6"/>
<path d="M1787.1 1848.3L1787.4 1844.3L1788.3 1840.3L1789.7 1836.3L1791.7 1832.4L1794.1 1828.7L1796.9 1825.3L1800.1 1822.3L1803.5 1819.7L1807 1817.6L1810.7 1816.1L1963.1 1768.3L1965.6 1767.8L1967.8 1767.6L1969.7 1767.9L1971.4 1768.4L1972.8 1769.3L1974 1770.4L1975 1771.8L1975.9 1773.5L1976.4 1775.7L1976.6 1778.2L1976.6 1855.6L1976.4 1858.7L1975.7 1862L1974.5 1865.2L1972.9 1868.4L1971 1871.4L1968.8 1874.3L1966.2 1876.8L1963.5 1878.9L1960.7 1880.6L1957.8 1881.8L1798.4 1936.1L1796.2 1936.6L1794.3 1936.8L1792.7 1936.6L1791.4 1936.2L1790.2 1935.5L1789.3 1934.6L1788.4 1933.5L1787.7 1932L1787.3 1930.2L1787.1 1928L1787.1 1848.3" class="w" stroke-width="4.8"/>
<path d="M1813.2 1815.4L1823.8 1812" fill="none" stroke="#000" stroke-width="11.6"/>
<path d="M1816.4 1814.4L1820.6 1813" fill="none" stroke="#fff" stroke-width="13"/>
<path d="M1823.8 1927.4L1813.2 1931" fill="none" stroke="#000" stroke-width="11.6"/>
<path d="M1820.6 1928.5L1816.4 1929.9" fill="none" stroke="#fff" stroke-width="13"/>
<path d="M1877 1795.4L1887.6 1792" fill="none" stroke="#000" stroke-width="11.6"/>
<path d="M1880.2 1794.3L1884.4 1793" fill="none" stroke="#fff" stroke-width="13"/>
<path d="M1887.6 1905.7L1877 1909.3" fill="none" stroke="#000" stroke-width="11.6"/>
<path d="M1884.4 1906.8L1880.2 1908.2" fill="none" stroke="#fff" stroke-width="13"/>
<path d="M1939 1775.9L1949.6 1772.6" fill="none" stroke="#000" stroke-width="11.6"/>
<path d="M1942.2 1774.9L1946.4 1773.6" fill="none" stroke="#fff" stroke-width="13"/>
<path d="M1949.6 1884.6L1939 1888.2" fill="none" stroke="#000" stroke-width="11.6"/>
<path d="M1946.4 1885.7L1942.2 1887.1" fill="none" stroke="#fff" stroke-width="13"/>
<path d="M1787.1 1888.6L1787.1 1877.4" fill="none" stroke="#000" stroke-width="11.6"/>
<path d="M1787.1 1885.2L1787.1 1880.8" fill="none" stroke="#fff" stroke-width="13"/>
<path d="M1985 1793.4L1992.5 1792.5C1995 1792.5 1996.4 1794.5 1996.4 1797L1996.4 1830C1996.4 1833.5 1995 1835.2 1992.5 1836.2L1985 1839.6" class="m" stroke-width="4.2"/>
<path d="M1843.4 1812.9L1874 1801.9L1867 1811.4L1850.4 1817.4ZM1874.7 1832.9L1871.2 1830.6L1867.7 1835.4L1867.7 1850.5L1874.7 1855ZM1843.4 1866.9L1874 1855.9L1867 1851.4L1850.4 1857.4ZM1842.7 1844.3L1846.2 1839.6L1849.7 1841.8L1849.7 1856.9L1842.7 1866.4ZM1842.7 1813.8L1849.7 1818.3L1849.7 1833.4L1846.2 1838.2L1842.7 1835.9ZM1846.9 1838.6L1850.4 1833.9L1867 1827.9L1870.5 1830.2L1867 1834.9L1850.4 1840.9ZM1879.1 1800.4L1907.7 1790.1L1900.7 1799.6L1886.1 1804.9ZM1908.4 1790.6L1901.4 1800.1L1901.4 1815.2L1904.9 1817.4L1908.4 1812.7ZM1908.4 1821.1L1904.9 1818.8L1901.4 1823.6L1901.4 1838.7L1908.4 1843.2ZM1879.1 1854.4L1907.7 1844.1L1900.7 1839.6L1886.1 1844.9ZM1878.4 1831.8L1881.9 1827.1L1885.4 1829.3L1885.4 1844.4L1878.4 1853.9ZM1878.4 1801.3L1885.4 1805.8L1885.4 1820.9L1881.9 1825.7L1878.4 1823.4ZM1817.4 1892.2L1828.3 1888.2L1825.6 1891.9L1820.1 1893.9ZM1828.7 1888.5L1826 1892.2L1826 1899.3L1827.3 1900.2L1828.7 1898.3ZM1828.7 1901.8L1827.3 1901L1826 1902.8L1826 1910L1828.7 1911.7ZM1817.4 1916.2L1828.3 1912.2L1825.6 1910.5L1820.1 1912.5ZM1817 1906L1818.3 1904.2L1819.7 1905.1L1819.7 1912.2L1817 1915.9ZM1817 1892.7L1819.7 1894.4L1819.7 1901.6L1818.3 1903.4L1817 1902.5ZM1831.4 1887.1L1842.3 1883.2L1839.6 1886.9L1834.1 1888.8ZM1842.7 1883.4L1840 1887.1L1840 1894.3L1841.3 1895.1L1842.7 1893.3ZM1842.7 1896.8L1841.3 1895.9L1840 1897.8L1840 1904.9L1842.7 1906.6ZM1831.4 1911.1L1842.3 1907.2L1839.6 1905.5L1834.1 1907.4ZM1832.8 1898.6L1834.1 1896.8L1839.6 1894.8L1841 1895.7L1839.6 1897.5L1834.1 1899.5ZM1864 1875.4L1874.9 1871.5L1872.2 1875.1L1866.7 1877.1ZM1875.3 1871.7L1872.6 1875.4L1872.6 1882.5L1873.9 1883.4L1875.3 1881.6ZM1875.3 1885.1L1873.9 1884.2L1872.6 1886L1872.6 1893.2L1875.3 1894.9ZM1864 1899.4L1874.9 1895.5L1872.2 1893.7L1866.7 1895.7ZM1863.6 1889.3L1864.9 1887.4L1866.3 1888.3L1866.3 1895.5L1863.6 1899.1ZM1863.6 1875.9L1866.3 1877.7L1866.3 1884.8L1864.9 1886.6L1863.6 1885.8ZM1877.9 1870.4L1888.8 1866.5L1886.1 1870.1L1880.6 1872.1ZM1889.2 1866.7L1886.5 1870.4L1886.5 1877.5L1887.8 1878.4L1889.2 1876.6ZM1889.2 1880.1L1887.8 1879.2L1886.5 1881L1886.5 1888.2L1889.2 1889.9ZM1877.9 1894.4L1888.8 1890.5L1886.1 1888.7L1880.6 1890.7ZM1877.5 1884.3L1878.8 1882.4L1880.2 1883.3L1880.2 1890.4L1877.5 1894.1ZM1877.5 1870.9L1880.2 1872.6L1880.2 1879.8L1878.8 1881.6L1877.5 1880.8ZM1909.1 1859.1L1920 1855.2L1917.3 1858.9L1911.8 1860.9ZM1920.4 1855.5L1917.7 1859.1L1917.7 1866.3L1919 1867.2L1920.4 1865.3ZM1920.4 1868.8L1919 1868L1917.7 1869.8L1917.7 1876.9L1920.4 1878.7ZM1909.1 1883.1L1920 1879.2L1917.3 1877.5L1911.8 1879.5ZM1908.7 1873L1910 1871.2L1911.4 1872.1L1911.4 1879.2L1908.7 1882.9ZM1908.7 1859.7L1911.4 1861.4L1911.4 1868.6L1910 1870.4L1908.7 1869.5ZM1922.9 1854.2L1933.8 1850.3L1931.1 1853.9L1925.6 1855.9ZM1934.2 1850.5L1931.5 1854.2L1931.5 1861.3L1932.8 1862.2L1934.2 1860.4ZM1934.2 1863.9L1932.8 1863L1931.5 1864.8L1931.5 1872L1934.2 1873.7ZM1922.9 1878.2L1933.8 1874.3L1931.1 1872.5L1925.6 1874.5ZM1922.5 1868.1L1923.8 1866.2L1925.2 1867.1L1925.2 1874.2L1922.5 1877.9ZM1922.5 1854.7L1925.2 1856.4L1925.2 1863.6L1923.8 1865.4L1922.5 1864.6ZM1850.5 1891.7L1860 1888.3L1860 1891.3L1850.5 1894.7ZM1896 1875.4L1905.5 1872L1905.5 1875L1896 1878.4ZM2021.7 1763L2041.5 1756.5L2036.7 1762.9L2026.5 1766.2ZM2042.1 1756.9L2037.3 1763.3L2037.3 1775.9L2039.7 1777.5L2042.1 1774.3ZM2042.1 1780.3L2039.7 1778.7L2037.3 1781.9L2037.3 1794.5L2042.1 1797.7ZM2021.7 1805L2041.5 1798.5L2036.7 1795.3L2026.5 1798.6ZM2021.1 1787.2L2023.5 1784L2025.9 1785.6L2025.9 1798.2L2021.1 1804.6ZM2021.1 1763.8L2025.9 1767L2025.9 1779.6L2023.5 1782.8L2021.1 1781.2ZM2049.9 1753.7L2069.7 1747.2L2064.9 1753.5L2054.7 1756.9ZM2070.3 1747.6L2065.5 1753.9L2065.5 1766.5L2067.9 1768.2L2070.3 1765ZM2070.3 1771L2067.9 1769.4L2065.5 1772.5L2065.5 1785.1L2070.3 1788.4ZM2049.9 1795.7L2069.7 1789.2L2064.9 1785.9L2054.7 1789.3ZM2049.3 1777.9L2051.7 1774.7L2054.1 1776.3L2054.1 1788.9L2049.3 1795.3ZM2049.3 1754.5L2054.1 1757.7L2054.1 1770.3L2051.7 1773.5L2049.3 1771.9ZM2078.1 1744.4L2097.9 1737.9L2093.1 1744.2L2082.9 1747.6ZM2098.5 1738.3L2093.7 1744.6L2093.7 1757.2L2096.1 1758.9L2098.5 1755.7ZM2098.5 1761.7L2096.1 1760L2093.7 1763.2L2093.7 1775.8L2098.5 1779.1ZM2078.1 1786.4L2097.9 1779.9L2093.1 1776.6L2082.9 1780ZM2077.5 1768.6L2079.9 1765.4L2082.3 1767L2082.3 1779.6L2077.5 1786ZM2077.5 1745.2L2082.3 1748.4L2082.3 1761L2079.9 1764.2L2077.5 1762.6ZM2106.3 1735.1L2126.1 1728.6L2121.3 1734.9L2111.1 1738.3ZM2126.7 1729L2121.9 1735.3L2121.9 1747.9L2124.3 1749.5L2126.7 1746.4ZM2126.7 1752.4L2124.3 1750.7L2121.9 1753.9L2121.9 1766.5L2126.7 1769.8ZM2106.3 1777.1L2126.1 1770.6L2121.3 1767.3L2111.1 1770.7ZM2105.7 1759.3L2108.1 1756.1L2110.5 1757.7L2110.5 1770.3L2105.7 1776.7ZM2105.7 1735.9L2110.5 1739.1L2110.5 1751.7L2108.1 1754.9L2105.7 1753.3ZM2021.7 1820.1L2041.5 1813.6L2036.7 1820L2026.5 1823.3ZM2042.1 1814L2037.3 1820.4L2037.3 1833L2039.7 1834.6L2042.1 1831.4ZM2042.1 1837.4L2039.7 1835.8L2037.3 1839L2037.3 1851.6L2042.1 1854.8ZM2021.7 1862.1L2041.5 1855.6L2036.7 1852.4L2026.5 1855.7ZM2021.1 1844.3L2023.5 1841.1L2025.9 1842.7L2025.9 1855.3L2021.1 1861.7ZM2021.1 1820.9L2025.9 1824.1L2025.9 1836.7L2023.5 1839.9L2021.1 1838.3ZM2049.9 1810.8L2069.7 1804.3L2064.9 1810.6L2054.7 1814ZM2070.3 1804.7L2065.5 1811L2065.5 1823.6L2067.9 1825.3L2070.3 1822.1ZM2070.3 1828.1L2067.9 1826.5L2065.5 1829.6L2065.5 1842.2L2070.3 1845.5ZM2049.9 1852.8L2069.7 1846.3L2064.9 1843L2054.7 1846.4ZM2049.3 1835L2051.7 1831.8L2054.1 1833.4L2054.1 1846L2049.3 1852.4ZM2049.3 1811.6L2054.1 1814.8L2054.1 1827.4L2051.7 1830.6L2049.3 1829ZM2078.1 1801.5L2097.9 1795L2093.1 1801.3L2082.9 1804.7ZM2098.5 1795.4L2093.7 1801.7L2093.7 1814.3L2096.1 1816L2098.5 1812.8ZM2098.5 1818.8L2096.1 1817.1L2093.7 1820.3L2093.7 1832.9L2098.5 1836.2ZM2078.1 1843.5L2097.9 1837L2093.1 1833.7L2082.9 1837.1ZM2077.5 1825.7L2079.9 1822.5L2082.3 1824.1L2082.3 1836.7L2077.5 1843.1ZM2077.5 1802.3L2082.3 1805.5L2082.3 1818.1L2079.9 1821.3L2077.5 1819.7ZM2106.3 1792.2L2126.1 1785.7L2121.3 1792L2111.1 1795.4ZM2126.7 1786.1L2121.9 1792.4L2121.9 1805L2124.3 1806.6L2126.7 1803.5ZM2126.7 1809.5L2124.3 1807.8L2121.9 1811L2121.9 1823.6L2126.7 1826.9ZM2106.3 1834.2L2126.1 1827.7L2121.3 1824.4L2111.1 1827.8ZM2105.7 1816.4L2108.1 1813.2L2110.5 1814.8L2110.5 1827.4L2105.7 1833.8ZM2105.7 1793L2110.5 1796.2L2110.5 1808.8L2108.1 1812L2105.7 1810.4Z" fill="#000"/>
<text transform="translate(1926 1840.5) rotate(-19)" font-size="30" class="b" text-anchor="middle" textLength="24" lengthAdjust="spacingAndGlyphs">%</text>
<text transform="translate(1849.5 1907) rotate(-19)" font-size="6.5" class="b" text-anchor="middle">D</text>
<text transform="translate(1895 1890.5) rotate(-19)" font-size="6.5" class="b" text-anchor="middle">H</text>
<text transform="translate(1941.5 1876.5) rotate(-19)" font-size="6.5" class="b" text-anchor="middle">M</text>
<text transform="translate(2133 1738.5) rotate(-19)" font-size="10.5" class="bi" text-anchor="start" textLength="23" lengthAdjust="spacingAndGlyphs">Input</text>
<text transform="translate(2133 1773.5) rotate(-19)" font-size="8.5" class="b" text-anchor="start">W</text>
<text transform="translate(2131.4 1795) rotate(-19)" font-size="10.5" class="bi" text-anchor="start" textLength="31" lengthAdjust="spacingAndGlyphs">Output</text>
<text transform="translate(2131.4 1830) rotate(-19)" font-size="8.5" class="b" text-anchor="start">W</text>
<ellipse cx="1618.6" cy="1932.6" rx="28" ry="34.2" transform="rotate(24 1618.6 1932.6)" class="m" stroke-width="5.2"/>
<path d="M1634 1903C1645 1916 1646 1938 1637 1955" class="w" stroke-width="0.9"/>
<text transform="translate(1619 1988) rotate(-22)" font-size="12" class="b" text-anchor="middle" textLength="46" lengthAdjust="spacingAndGlyphs">DISPLAY</text>
<ellipse cx="2357" cy="1701" rx="25.5" ry="31" transform="rotate(26 2357 1701)" class="m" stroke-width="5"/>
<ellipse cx="2356.3" cy="1703.6" rx="10.5" ry="12" transform="rotate(20 2356.3 1703.6)" class="m" stroke-width="8"/>
<path d="M2357 1682L2357 1699" class="w" stroke-width="9" stroke-linecap="butt"/>
<path d="M2357 1684.5L2357 1697" class="m" stroke-width="5"/>
<text transform="translate(2353 1758) rotate(-19.5)" font-size="11.5" class="bi" text-anchor="middle" textLength="40" lengthAdjust="spacingAndGlyphs">ON/OFF</text>
<text transform="translate(1539 2124) matrix(1 -0.303 0.13 1 0 0)" font-size="50" class="b" textLength="166" lengthAdjust="spacingAndGlyphs" stroke="#000" stroke-width="0.8" stroke-linejoin="round">dellonda</text>
<path d="M1568 2088C1588 2068 1610 2046 1637 2035C1634 2040 1636 2046 1641 2050C1648 2056 1658 2056 1666 2054C1657 2058 1645 2060 1636 2055C1629 2051 1627 2046 1627 2041C1606 2052 1586 2072 1568 2088Z" fill="#000" stroke="#000" stroke-width="1.5" stroke-linejoin="round"/>
<path d="M1572 2090C1588 2076 1602 2063 1620 2056C1618 2060 1620 2063 1624 2065C1629 2067 1634 2066 1638 2065C1633 2068 1626 2069 1621 2067C1617 2065 1615 2062 1615 2060C1600 2068 1586 2080 1572 2090Z" fill="#000" stroke="#000" stroke-width="1" stroke-linejoin="round"/>
<path d="M1697.7 2114.3L1723.1 2106.1" class="m" stroke-width="15.8"/><path d="M1697.7 2114.3L1723.1 2106.1" class="w" stroke-width="6.6"/>
<path d="M1799.1 2078.9L1824.5 2070.7" class="m" stroke-width="15.8"/><path d="M1799.1 2078.9L1824.5 2070.7" class="w" stroke-width="6.6"/>
<text transform="translate(1713 2146) rotate(-18.5)" font-size="12.5" class="b" text-anchor="middle" textLength="41" lengthAdjust="spacingAndGlyphs">USB-C1</text>
<text transform="translate(1714.5 2159.5) rotate(-18.5)" font-size="9.5" class="bi" text-anchor="middle" textLength="26" lengthAdjust="spacingAndGlyphs">100W</text>
<text transform="translate(1813.5 2111.5) rotate(-18.5)" font-size="12.5" class="b" text-anchor="middle" textLength="41" lengthAdjust="spacingAndGlyphs">USB-C2</text>
<text transform="translate(1814.5 2127) rotate(-18.5)" font-size="9.5" class="bi" text-anchor="middle" textLength="26" lengthAdjust="spacingAndGlyphs">100W</text>
<path d="M1892 2040.5C1892 2038.8 1893.3 2037.1 1894.8 2036.5L1946.2 2018.5C1947.7 2017.9 1949 2018.8 1949 2020.5L1949 2040.5C1949 2042.2 1947.7 2043.9 1946.2 2044.4L1894.8 2061.6C1893.3 2062.1 1892 2061.2 1892 2059.5Z" fill="#000"/><path d="M1900 2039.7L1941 2025.5" stroke="#fff" stroke-width="0.9" fill="none"/><path d="M1900 2042.2L1941 2028.1" stroke="#fff" stroke-width="0.9" fill="none"/><path d="M1897.1 2048.2L1942.2 2030.8L1942.2 2037.5L1903.4 2052.7L1897.1 2051.3Z" fill="#fff"/><path d="M1917.1 2039.4L1923.9 2045.2" stroke="#000" stroke-width="4" fill="none"/><path d="M1923.9 2037L1930.8 2042.9" stroke="#000" stroke-width="4" fill="none"/><path d="M1903.4 2046.1L1907.4 2051.3" stroke="#000" stroke-width="3" fill="none"/>
<path d="M2004.7 2002.7C2004.7 2001 2006 1999.2 2007.5 1998.7L2058.5 1980.5C2060 1980 2061.3 1980.8 2061.3 1982.5L2061.3 2003C2061.3 2004.7 2060 2006.4 2058.4 2006.9L2007.6 2023.7C2006 2024.2 2004.7 2023.2 2004.7 2021.6Z" fill="#000"/><path d="M2012.6 2001.9L2053.4 1987.6" stroke="#fff" stroke-width="0.9" fill="none"/><path d="M2012.6 2004.4L2053.4 1990.2" stroke="#fff" stroke-width="0.9" fill="none"/><path d="M2009.8 2010.4L2054.5 1993L2054.5 1999.8L2016 2014.8L2009.8 2013.4Z" fill="#fff"/><path d="M2029.6 2001.6L2036.4 2007.5" stroke="#000" stroke-width="4" fill="none"/><path d="M2036.4 1999.2L2043.2 2005.2" stroke="#000" stroke-width="4" fill="none"/><path d="M2016 2008.3L2020 2013.5" stroke="#000" stroke-width="3" fill="none"/>
<path d="M2114.9 1965.5C2114.9 1963.8 2116.2 1962.1 2117.7 1961.6L2168.8 1944.7C2170.3 1944.2 2171.6 1945.1 2171.6 1946.8L2171.6 1967.2C2171.6 1968.9 2170.3 1970.6 2168.7 1971.1L2117.8 1987.2C2116.2 1987.7 2114.9 1986.8 2114.9 1985.1Z" fill="#000"/><path d="M2122.8 1965L2163.7 1951.7" stroke="#fff" stroke-width="0.9" fill="none"/><path d="M2122.8 1967.6L2163.7 1954.3" stroke="#fff" stroke-width="0.9" fill="none"/><path d="M2120 1973.7L2164.8 1957.1L2164.8 1963.9L2126.2 1978.3L2120 1976.7Z" fill="#fff"/><path d="M2139.8 1965.2L2146.7 1971.3" stroke="#000" stroke-width="4" fill="none"/><path d="M2146.7 1963L2153.5 1969.1" stroke="#000" stroke-width="4" fill="none"/><path d="M2126.2 1971.6L2130.2 1977.1" stroke="#000" stroke-width="3" fill="none"/>
<path d="M2224.4 1929.7C2224.4 1928 2225.7 1926.3 2227.3 1925.8L2278.2 1909.8C2279.8 1909.3 2281.1 1910.2 2281.1 1911.9L2281.1 1932.3C2281.1 1934 2279.8 1935.7 2278.2 1936.2L2227.3 1952.2C2225.7 1952.7 2224.4 1951.8 2224.4 1950.1Z" fill="#000"/><path d="M2232.3 1929.5L2273.2 1916.7" stroke="#fff" stroke-width="0.9" fill="none"/><path d="M2232.3 1932.1L2273.2 1919.3" stroke="#fff" stroke-width="0.9" fill="none"/><path d="M2229.5 1938.3L2274.3 1922.1L2274.3 1929L2235.7 1943.2L2229.5 1941.5Z" fill="#fff"/><path d="M2249.3 1930L2256.2 1936.3" stroke="#000" stroke-width="4" fill="none"/><path d="M2256.2 1927.8L2263 1934.1" stroke="#000" stroke-width="4" fill="none"/><path d="M2235.7 1936.3L2239.7 1942" stroke="#000" stroke-width="3" fill="none"/>
<text transform="translate(1922.5 2077) rotate(-18.5)" font-size="12.5" class="b" text-anchor="middle" textLength="40" lengthAdjust="spacingAndGlyphs">USB-A1</text>
<text transform="translate(1924 2090.5) rotate(-18.5)" font-size="11" class="b" text-anchor="middle" textLength="20" lengthAdjust="spacingAndGlyphs">18W</text>
<text transform="translate(2035.5 2038.5) rotate(-18.5)" font-size="12.5" class="b" text-anchor="middle" textLength="40" lengthAdjust="spacingAndGlyphs">USB-A2</text>
<text transform="translate(2037 2052) rotate(-18.5)" font-size="11" class="b" text-anchor="middle" textLength="20" lengthAdjust="spacingAndGlyphs">18W</text>
<text transform="translate(2145.5 2003) rotate(-18.5)" font-size="12.5" class="b" text-anchor="middle" textLength="40" lengthAdjust="spacingAndGlyphs">USB-A3</text>
<text transform="translate(2147 2016.5) rotate(-18.5)" font-size="11" class="b" text-anchor="middle" textLength="20" lengthAdjust="spacingAndGlyphs">12W</text>
<text transform="translate(2255 1968.5) rotate(-18.5)" font-size="12.5" class="b" text-anchor="middle" textLength="40" lengthAdjust="spacingAndGlyphs">USB-A4</text>
<text transform="translate(2256.5 1982) rotate(-18.5)" font-size="11" class="b" text-anchor="middle" textLength="20" lengthAdjust="spacingAndGlyphs">12W</text>
<path d="M1587 2308.8L1585.8 2226C1585.8 2214 1590 2207.5 1599.4 2204.4L2355 1953.3C2368 1949 2377 1953 2377 1966L2373.5 2038" class="m" stroke-width="3.8"/>
<path d="M1587.5 2420.4L1588 2478C1588.3 2488.5 1592.5 2493.3 1600.5 2490.8L2357 2230.5C2366 2227.5 2370 2223 2370.3 2214.6L2371 2134.6" class="m" stroke-width="3.8"/>
<path d="M1639 2212.8C1639 2207.8 1642.8 2202.5 1647.5 2201L2321 1976.8C2326.2 1975 2330.3 1978.1 2330.1 1983.6L2320 2226.2C2319.7 2232.3 2314.8 2238.8 2309.1 2240.8L1645.1 2468.9C1642 2469.9 1639.4 2468.1 1639.4 2464.8Z" class="m" stroke-width="3.8"/>
<path d="M1661.7 2221.7L1867.5 2151.8L1864.4 2369.9L1662.1 2442.7Z" class="m" stroke-width="4.6"/><path d="M1666.4 2225.9L1864.4 2158L1861.3 2367.1L1666.4 2439.8Z" class="m" stroke-width="3.2"/><path d="M1865.8 2155.2L1862.7 2368.4" stroke="#000" stroke-width="3" fill="none" stroke-dasharray="14 3"/><path d="M1754.9 2237.1L1776.6 2229.4L1776.6 2272.1L1754.9 2279.8Z" fill="#000"/><path d="M1758.6 2238.4L1768.8 2234.7L1768.8 2269.3L1758.6 2272.9Z" fill="#fff"/><path d="M1704 2361.4L1735.5 2350.5L1735.5 2369.9L1704 2381.2Z" fill="#000"/><path d="M1707.5 2363.4L1720.4 2358.9L1720.4 2367.9L1707.5 2372.4Z" fill="#fff"/><path d="M1724.2 2357.6L1731.7 2354.9L1731.7 2365L1724.2 2364.2Z" fill="#fff"/><path d="M1707.5 2376L1726 2369.4" stroke="#fff" stroke-width="0.8" fill="none"/><path d="M1795 2329.5L1825.6 2318.7L1825.6 2338.1L1795 2349Z" fill="#000"/><path d="M1798.4 2331.4L1810.9 2327L1810.9 2335.9L1798.4 2340.4Z" fill="#fff"/><path d="M1814.6 2325.7L1821.9 2323.1L1821.9 2333.2L1814.6 2332.3Z" fill="#fff"/><path d="M1798.4 2343.9L1816.4 2337.5" stroke="#fff" stroke-width="0.8" fill="none"/>
<path d="M1887.1 2145.6L2092.9 2075.8L2089.8 2295.4L1886.9 2365.9Z" class="m" stroke-width="4.6"/><path d="M1891 2149.9L2089.1 2082.8L2086.8 2292.7L1890.7 2363.7Z" class="m" stroke-width="3.2"/><path d="M2090.8 2079.6L2088.2 2293.9" stroke="#000" stroke-width="3" fill="none" stroke-dasharray="14 3"/><path d="M1980.3 2161.1L2001.6 2153.4L2001.6 2196.1L1980.3 2203.8Z" fill="#000"/><path d="M1983.9 2162.4L1993.9 2158.7L1993.9 2193.3L1983.9 2196.9Z" fill="#fff"/><path d="M1929.1 2285.3L1960.6 2274.5L1960.6 2293.9L1929.1 2304.8Z" fill="#000"/><path d="M1932.6 2287.2L1945.5 2282.8L1945.5 2291.7L1932.6 2296.2Z" fill="#fff"/><path d="M1949.3 2281.5L1956.8 2278.9L1956.8 2289L1949.3 2288.1Z" fill="#fff"/><path d="M1932.6 2299.7L1951.1 2293.3" stroke="#fff" stroke-width="0.8" fill="none"/><path d="M2020.2 2253.5L2051.3 2242.6L2051.3 2262L2020.2 2272.9Z" fill="#000"/><path d="M2023.6 2255.4L2036.4 2250.9L2036.4 2259.9L2023.6 2264.3Z" fill="#fff"/><path d="M2040.1 2249.6L2047.6 2247L2047.6 2257.1L2040.1 2256.2Z" fill="#fff"/><path d="M2023.6 2267.8L2042 2261.4" stroke="#fff" stroke-width="0.8" fill="none"/>
<path d="M2106.9 2072L2307.1 2004.2L2300.5 2220.8L2103.1 2293.7Z" class="m" stroke-width="4.6"/><path d="M2110.7 2075.3L2303.2 2010.2L2297.4 2216.5L2106.8 2292.4Z" class="m" stroke-width="3.2"/><path d="M2304.9 2007.5L2298.8 2218.4" stroke="#000" stroke-width="3" fill="none" stroke-dasharray="14 3"/><path d="M2197.2 2087.5L2218 2080L2218 2121.2L2197.2 2128.8Z" fill="#000"/><path d="M2200.8 2088.7L2210.5 2085.2L2210.5 2118.6L2200.8 2122.1Z" fill="#fff"/><path d="M2145.5 2208.8L2175.5 2198.2L2175.5 2217.5L2145.5 2228.2Z" fill="#000"/><path d="M2148.8 2210.7L2161.1 2206.4L2161.1 2215.3L2148.8 2219.7Z" fill="#fff"/><path d="M2164.7 2205.1L2171.9 2202.6L2171.9 2212.6L2164.7 2211.7Z" fill="#fff"/><path d="M2148.8 2223.2L2166.5 2216.9" stroke="#fff" stroke-width="0.8" fill="none"/><path d="M2233.5 2177L2264.2 2166.2L2264.2 2186.2L2233.5 2197Z" fill="#000"/><path d="M2236.9 2179L2249.5 2174.6L2249.5 2183.8L2236.9 2188.2Z" fill="#fff"/><path d="M2253.2 2173.3L2260.6 2170.7L2260.6 2181.1L2253.2 2180.1Z" fill="#fff"/><path d="M2236.9 2191.8L2255 2185.5" stroke="#fff" stroke-width="0.8" fill="none"/>
<path d="M1571 2363.6L1609 2348.4" class="m" stroke-width="31"/><path d="M1571 2363.6L1609 2348.4" class="w" stroke-width="22.6"/>
<path d="M1571 2363.6L1609 2348.4" class="m" stroke-width="20.2"/><path d="M1571 2363.6L1609 2348.4" class="w" stroke-width="17.6"/>
<circle cx="1607.3" cy="2349.2" r="4.4" class="m" stroke-width="3.2"/>
<text transform="translate(1589.5 2396) rotate(-21)" font-size="11.5" class="bi" text-anchor="middle" textLength="60" lengthAdjust="spacingAndGlyphs">AC ON/OFF</text>
<path d="M2339.5 2100C2341 2089 2349 2083 2357 2083.5C2363 2084 2367 2087 2368.5 2090" class="m" stroke-width="7.4" stroke-linecap="butt"/>
<path d="M2368 2093C2370 2098 2376 2102.5 2383 2102C2391 2101.5 2397.5 2095 2398.5 2085.5" class="m" stroke-width="7.4" stroke-linecap="butt"/>
<path d="M2336.5 2104.6L2340.8 2103.4M2393.5 2082L2398.7 2080.6" class="m" stroke-width="2.6" stroke-linecap="butt"/>
<text transform="translate(2343.5 2101) rotate(-14)" font-size="8.2" class="bi" stroke="#fff" stroke-width="2.6" paint-order="stroke" textLength="47" lengthAdjust="spacingAndGlyphs">Sine-Wave</text>
<text transform="translate(2386.5 2075.5) rotate(-15)" font-size="9" class="b" text-anchor="middle" textLength="25" lengthAdjust="spacingAndGlyphs">1800W</text>
<rect x="1460.6" y="2385.4" width="22.8" height="216" fill="#fff"/>
<path d="M1460.9 2385.4L1460.9 2487" stroke="#555" stroke-width="0.6" fill="none"/>
<path d="M240.5 1193L240.5 716M240.5 1303L240.5 1922.7L642 2244M810 2371.5L1220 2703M1471.5 2793L1975.6 2621.4M2166 2556L2473 2452.5" class="d"/>
<path d="M240.5 716L688 623.4" class="d" stroke-dasharray="21 21.3" stroke-dashoffset="10.2"/>
<path d="M240.5 1922.7L545 1858.8" class="d" stroke-dasharray="22 22" stroke-dashoffset="12.5"/>
<path d="M1220 2703L1562 2582" class="d" stroke-dasharray="20 20" stroke-dashoffset="10"/>
<path d="M1471.5 2793L1471.5 2388" class="d" stroke-dasharray="20 19.5" stroke-dashoffset="9.5"/>
<path d="M2473 2452.5L2473 2156" class="d" stroke-dasharray="20 21" stroke-dashoffset="10.5"/>
<text x="113" y="1278" font-size="84" fill="#1d1d1b" textLength="254" lengthAdjust="spacingAndGlyphs">29.5cm</text>
<text transform="translate(726 2308) rotate(38.6)" x="0" y="30" font-size="84" fill="#1d1d1b" text-anchor="middle" textLength="196" lengthAdjust="spacingAndGlyphs">42cm</text>
<text transform="translate(2070.8 2588.7) rotate(-18.8)" x="0" y="30" font-size="84" fill="#1d1d1b" text-anchor="middle" textLength="190" lengthAdjust="spacingAndGlyphs">27cm</text>
<rect x="120" y="120.5" width="352" height="173" rx="6" fill="#d7dbda"/>
<rect x="126.2" y="127" width="339.3" height="119.5" fill="#569b7e"/>
<rect x="126.2" y="246" width="339.3" height="41" fill="#3a715a"/>
<text x="160" y="233.7" font-size="78" class="b" fill="#fff" stroke="#fff" stroke-width="3" stroke-linejoin="round" textLength="270" lengthAdjust="spacingAndGlyphs">dellonda</text>
<path d="M208.7 190.4C239 170 275 150 308 141C313 139.8 318 139.3 322 139.5C326 143 327 149 328 154C331 165 345 176 373 185L373.7 189.5C352 189 332 184 320 174C313 168 311 158 313 149.5C303 148 290 151 275 157C255 165 232 178 208.7 190.4Z" fill="#fff" stroke="#fff" stroke-width="1" stroke-linejoin="round"/>
<path d="M219 190.4C240 178 265 166 293 159.7L295.2 160.8C296 167 299 174 304.3 179C309 183.5 316 186.5 324.8 188L324.8 190.8C314 190.5 303 187 296 181C291 176.5 288 171 286 164.7C265 170 240 181 219 190.4Z" fill="#fff" stroke="#fff" stroke-width="0.8" stroke-linejoin="round"/>
<text x="435.5" y="199.5" font-size="9" fill="#fff" class="b">&#174;</text>
<text x="137" y="273" font-size="18.5" fill="#e8f2ec" textLength="178" lengthAdjust="spacing">LIFESTYLE &amp;</text>
<text x="334" y="273" font-size="18.5" fill="#fff" class="b" textLength="120" lengthAdjust="spacing">LEISURE</text>
</svg>

</body></html>
